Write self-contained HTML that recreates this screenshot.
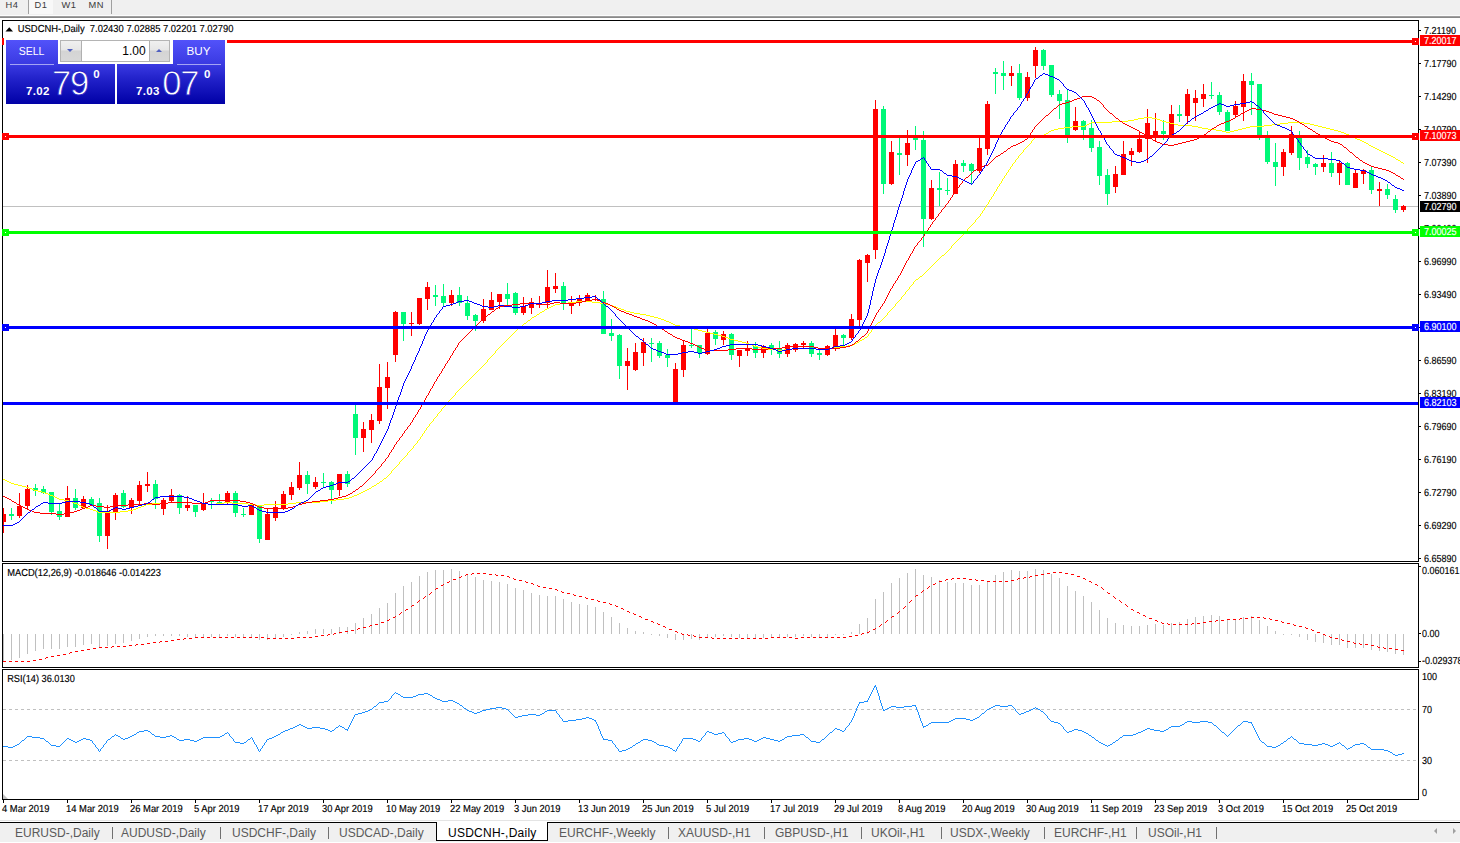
<!DOCTYPE html>
<html><head><meta charset="utf-8"><title>USDCNH Daily</title>
<style>
html,body{margin:0;padding:0;background:#fff;}
body{width:1460px;height:843px;overflow:hidden;position:relative;font-family:"Liberation Sans",sans-serif;}
#tb{position:absolute;left:0;top:0;width:1460px;height:15px;background:#f0f0f0;}
#tb span{position:absolute;top:-1.3px;font-size:9.3px;color:#3a3a3a;line-height:12px;letter-spacing:0.6px;}
#tb i{position:absolute;top:0;width:1px;height:14px;background:#a0a0a0;}
#tb .d1{position:absolute;left:29px;top:0;width:24px;height:14px;background:#f8f8f8;}
#tbl{position:absolute;left:0;top:15px;width:1460px;height:5px;background:linear-gradient(#fcfcfc 0,#fcfcfc 24%,#808080 32%,#8a8a8a 52%,#fff 60%,#fff 100%);}
svg{position:absolute;left:0;top:0;}
svg text{font-family:"Liberation Sans",sans-serif;text-rendering:geometricPrecision;stroke:currentColor;stroke-width:0.15px;}
#tabs{position:absolute;left:0;top:820px;width:1460px;height:22px;background:#f0f0f0;}
#tabs .l1{position:absolute;left:0;top:0;width:1460px;height:1px;background:#e4e4e4;}
#tabs .l0{position:absolute;left:0;top:1px;width:1460px;height:1px;background:#fff;}
#tabs .l2{position:absolute;left:0;top:2px;width:1460px;height:1px;background:#000;}
.tab{position:absolute;top:5px;font-size:12px;line-height:16px;color:#5a5a5a;white-space:nowrap;}
.tab.act{color:#000;letter-spacing:0.25px;}
.sep{position:absolute;top:7px;width:1px;height:12px;background:#707070;}
#acttab{position:absolute;left:436px;top:2px;width:112px;height:19px;background:#fff;border:1px solid #000;border-top:none;box-sizing:border-box;}
/* trade panel */
#tp{position:absolute;left:6px;top:40px;width:219px;height:64px;background:linear-gradient(#fff 0,#fff 24px,transparent 24px);}
#tp .g{position:absolute;left:0;top:0;width:219px;height:64px;background:linear-gradient(#5252fa 0,#3a3ae2 24px,#2020c8 40px,#0000a6 64px);
  clip-path:polygon(0 0,52px 0,52px 24px,109px 24px,109px 64px,111px 64px,111px 24px,167px 24px,167px 0,219px 0,219px 64px,0 64px);}
#tp .btn{position:absolute;color:#fff;font-size:11.7px;text-align:center;line-height:14px;transform:scaleX(0.9);}
#tp .big{position:absolute;color:#fff;font-size:34.6px;line-height:34px;letter-spacing:-1.2px;-webkit-text-stroke:0.8px #1e1ec6;}
#tp .sm{position:absolute;color:#fff;font-size:11.5px;font-weight:bold;line-height:12px;letter-spacing:0.35px;}
#tp .sup{position:absolute;color:#fff;font-size:11.5px;font-weight:bold;line-height:12px;}
</style></head><body>
<div id="tb"><div class="d1"></div><span style="left:5.5px">H4</span><span style="left:34.5px">D1</span><span style="left:61.5px">W1</span><span style="left:88.5px">MN</span><i style="left:28px"></i><i style="left:111px"></i></div>
<div id="tbl"></div>
<svg width="1460" height="843" viewBox="0 0 1460 843">
<line x1="3" y1="206.5" x2="1418" y2="206.5" stroke="#c0c0c0" stroke-width="1"/>
<defs><clipPath id="cp"><rect x="3" y="21" width="1415" height="778"/></clipPath></defs>
<g shape-rendering="crispEdges" clip-path="url(#cp)"><rect x="3" y="508" width="1" height="25" fill="#ff0000"/><rect x="1" y="514" width="5" height="8" fill="#ff0000"/><rect x="11" y="508" width="1" height="12" fill="#00f878"/><rect x="9" y="514" width="5" height="2" fill="#00f878"/><rect x="19" y="493" width="1" height="25" fill="#ff0000"/><rect x="17" y="506" width="5" height="10" fill="#ff0000"/><rect x="27" y="485" width="1" height="24" fill="#ff0000"/><rect x="25" y="489" width="5" height="17" fill="#ff0000"/><rect x="35" y="484" width="1" height="12" fill="#00f878"/><rect x="33" y="488" width="5" height="3" fill="#00f878"/><rect x="43" y="486" width="1" height="8" fill="#00f878"/><rect x="41" y="489" width="5" height="4" fill="#00f878"/><rect x="51" y="492" width="1" height="23" fill="#00f878"/><rect x="49" y="492" width="5" height="20" fill="#00f878"/><rect x="59" y="504" width="1" height="16" fill="#00f878"/><rect x="57" y="511" width="5" height="6" fill="#00f878"/><rect x="67" y="486" width="1" height="31" fill="#ff0000"/><rect x="65" y="498" width="5" height="19" fill="#ff0000"/><rect x="75" y="489" width="1" height="21" fill="#00f878"/><rect x="73" y="498" width="5" height="10" fill="#00f878"/><rect x="83" y="496" width="1" height="13" fill="#ff0000"/><rect x="81" y="499" width="5" height="9" fill="#ff0000"/><rect x="91" y="497" width="1" height="9" fill="#00f878"/><rect x="89" y="499" width="5" height="6" fill="#00f878"/><rect x="99" y="498" width="1" height="44" fill="#00f878"/><rect x="97" y="503" width="5" height="33" fill="#00f878"/><rect x="107" y="505" width="1" height="44" fill="#ff0000"/><rect x="105" y="511" width="5" height="25" fill="#ff0000"/><rect x="115" y="493" width="1" height="27" fill="#ff0000"/><rect x="113" y="495" width="5" height="17" fill="#ff0000"/><rect x="123" y="490" width="1" height="18" fill="#00f878"/><rect x="121" y="493" width="5" height="14" fill="#00f878"/><rect x="131" y="498" width="1" height="16" fill="#ff0000"/><rect x="129" y="500" width="5" height="8" fill="#ff0000"/><rect x="139" y="481" width="1" height="23" fill="#ff0000"/><rect x="137" y="485" width="5" height="16" fill="#ff0000"/><rect x="147" y="472" width="1" height="20" fill="#ff0000"/><rect x="145" y="484" width="5" height="2" fill="#ff0000"/><rect x="155" y="480" width="1" height="29" fill="#00f878"/><rect x="153" y="484" width="5" height="15" fill="#00f878"/><rect x="163" y="498" width="1" height="17" fill="#ff0000"/><rect x="161" y="500" width="5" height="9" fill="#ff0000"/><rect x="171" y="489" width="1" height="14" fill="#ff0000"/><rect x="169" y="495" width="5" height="6" fill="#ff0000"/><rect x="179" y="494" width="1" height="20" fill="#00f878"/><rect x="177" y="495" width="5" height="13" fill="#00f878"/><rect x="187" y="496" width="1" height="15" fill="#ff0000"/><rect x="185" y="505" width="5" height="3" fill="#ff0000"/><rect x="195" y="505" width="1" height="12" fill="#00f878"/><rect x="193" y="505" width="5" height="7" fill="#00f878"/><rect x="203" y="493" width="1" height="18" fill="#ff0000"/><rect x="201" y="503" width="5" height="7" fill="#ff0000"/><rect x="211" y="498" width="1" height="11" fill="#00f878"/><rect x="209" y="501" width="5" height="1" fill="#00f878"/><rect x="219" y="494" width="1" height="11" fill="#00f878"/><rect x="217" y="502" width="5" height="1" fill="#00f878"/><rect x="227" y="491" width="1" height="14" fill="#ff0000"/><rect x="225" y="493" width="5" height="9" fill="#ff0000"/><rect x="235" y="491" width="1" height="26" fill="#00f878"/><rect x="233" y="493" width="5" height="20" fill="#00f878"/><rect x="243" y="508" width="1" height="9" fill="#00f878"/><rect x="241" y="514" width="5" height="1" fill="#00f878"/><rect x="251" y="505" width="1" height="10" fill="#ff0000"/><rect x="249" y="505" width="5" height="10" fill="#ff0000"/><rect x="259" y="506" width="1" height="37" fill="#00f878"/><rect x="257" y="506" width="5" height="33" fill="#00f878"/><rect x="267" y="509" width="1" height="31" fill="#ff0000"/><rect x="265" y="514" width="5" height="26" fill="#ff0000"/><rect x="275" y="501" width="1" height="20" fill="#ff0000"/><rect x="273" y="507" width="5" height="11" fill="#ff0000"/><rect x="283" y="491" width="1" height="19" fill="#ff0000"/><rect x="281" y="494" width="5" height="15" fill="#ff0000"/><rect x="291" y="482" width="1" height="18" fill="#ff0000"/><rect x="289" y="487" width="5" height="8" fill="#ff0000"/><rect x="299" y="462" width="1" height="28" fill="#ff0000"/><rect x="297" y="475" width="5" height="13" fill="#ff0000"/><rect x="307" y="471" width="1" height="23" fill="#00f878"/><rect x="305" y="475" width="5" height="9" fill="#00f878"/><rect x="315" y="477" width="1" height="12" fill="#ff0000"/><rect x="313" y="482" width="5" height="5" fill="#ff0000"/><rect x="323" y="473" width="1" height="15" fill="#00f878"/><rect x="321" y="482" width="5" height="1" fill="#00f878"/><rect x="331" y="481" width="1" height="23" fill="#00f878"/><rect x="329" y="482" width="5" height="8" fill="#00f878"/><rect x="339" y="474" width="1" height="22" fill="#ff0000"/><rect x="337" y="474" width="5" height="16" fill="#ff0000"/><rect x="347" y="471" width="1" height="16" fill="#00f878"/><rect x="345" y="474" width="5" height="10" fill="#00f878"/><rect x="355" y="405" width="1" height="50" fill="#00f878"/><rect x="353" y="414" width="5" height="24" fill="#00f878"/><rect x="363" y="422" width="1" height="30" fill="#ff0000"/><rect x="361" y="429" width="5" height="9" fill="#ff0000"/><rect x="371" y="414" width="1" height="29" fill="#ff0000"/><rect x="369" y="420" width="5" height="10" fill="#ff0000"/><rect x="379" y="364" width="1" height="60" fill="#ff0000"/><rect x="377" y="387" width="5" height="34" fill="#ff0000"/><rect x="387" y="362" width="1" height="47" fill="#ff0000"/><rect x="385" y="377" width="5" height="11" fill="#ff0000"/><rect x="395" y="311" width="1" height="51" fill="#ff0000"/><rect x="393" y="312" width="5" height="43" fill="#ff0000"/><rect x="403" y="312" width="1" height="29" fill="#00f878"/><rect x="401" y="312" width="5" height="12" fill="#00f878"/><rect x="411" y="312" width="1" height="24" fill="#ff0000"/><rect x="409" y="323" width="5" height="1" fill="#ff0000"/><rect x="419" y="298" width="1" height="27" fill="#ff0000"/><rect x="417" y="298" width="5" height="26" fill="#ff0000"/><rect x="427" y="282" width="1" height="28" fill="#ff0000"/><rect x="425" y="287" width="5" height="12" fill="#ff0000"/><rect x="435" y="285" width="1" height="21" fill="#00f878"/><rect x="433" y="295" width="5" height="2" fill="#00f878"/><rect x="443" y="284" width="1" height="22" fill="#00f878"/><rect x="441" y="296" width="5" height="7" fill="#00f878"/><rect x="451" y="290" width="1" height="16" fill="#ff0000"/><rect x="449" y="295" width="5" height="8" fill="#ff0000"/><rect x="459" y="287" width="1" height="19" fill="#00f878"/><rect x="457" y="295" width="5" height="8" fill="#00f878"/><rect x="467" y="296" width="1" height="24" fill="#00f878"/><rect x="465" y="303" width="5" height="13" fill="#00f878"/><rect x="475" y="314" width="1" height="17" fill="#00f878"/><rect x="473" y="315" width="5" height="6" fill="#00f878"/><rect x="483" y="299" width="1" height="24" fill="#ff0000"/><rect x="481" y="309" width="5" height="12" fill="#ff0000"/><rect x="491" y="292" width="1" height="18" fill="#ff0000"/><rect x="489" y="300" width="5" height="10" fill="#ff0000"/><rect x="499" y="294" width="1" height="15" fill="#ff0000"/><rect x="497" y="294" width="5" height="8" fill="#ff0000"/><rect x="507" y="283" width="1" height="24" fill="#00f878"/><rect x="505" y="294" width="5" height="5" fill="#00f878"/><rect x="515" y="292" width="1" height="23" fill="#00f878"/><rect x="513" y="293" width="5" height="20" fill="#00f878"/><rect x="523" y="297" width="1" height="18" fill="#ff0000"/><rect x="521" y="306" width="5" height="7" fill="#ff0000"/><rect x="531" y="298" width="1" height="16" fill="#ff0000"/><rect x="529" y="302" width="5" height="6" fill="#ff0000"/><rect x="539" y="296" width="1" height="12" fill="#ff0000"/><rect x="537" y="304" width="5" height="1" fill="#ff0000"/><rect x="547" y="270" width="1" height="38" fill="#ff0000"/><rect x="545" y="287" width="5" height="16" fill="#ff0000"/><rect x="555" y="273" width="1" height="20" fill="#ff0000"/><rect x="553" y="286" width="5" height="3" fill="#ff0000"/><rect x="563" y="282" width="1" height="28" fill="#00f878"/><rect x="561" y="286" width="5" height="18" fill="#00f878"/><rect x="571" y="296" width="1" height="18" fill="#ff0000"/><rect x="569" y="303" width="5" height="3" fill="#ff0000"/><rect x="579" y="295" width="1" height="11" fill="#ff0000"/><rect x="577" y="299" width="5" height="3" fill="#ff0000"/><rect x="587" y="293" width="1" height="8" fill="#ff0000"/><rect x="585" y="295" width="5" height="6" fill="#ff0000"/><rect x="595" y="295" width="1" height="6" fill="#ff0000"/><rect x="593" y="299" width="5" height="1" fill="#ff0000"/><rect x="603" y="291" width="1" height="43" fill="#00f878"/><rect x="601" y="299" width="5" height="35" fill="#00f878"/><rect x="611" y="319" width="1" height="22" fill="#00f878"/><rect x="609" y="333" width="5" height="3" fill="#00f878"/><rect x="619" y="334" width="1" height="45" fill="#00f878"/><rect x="617" y="335" width="5" height="31" fill="#00f878"/><rect x="627" y="348" width="1" height="42" fill="#ff0000"/><rect x="625" y="361" width="5" height="5" fill="#ff0000"/><rect x="635" y="343" width="1" height="28" fill="#ff0000"/><rect x="633" y="352" width="5" height="18" fill="#ff0000"/><rect x="643" y="338" width="1" height="28" fill="#ff0000"/><rect x="641" y="342" width="5" height="11" fill="#ff0000"/><rect x="651" y="338" width="1" height="24" fill="#00f878"/><rect x="649" y="343" width="5" height="1" fill="#00f878"/><rect x="659" y="341" width="1" height="17" fill="#00f878"/><rect x="657" y="343" width="5" height="13" fill="#00f878"/><rect x="667" y="349" width="1" height="18" fill="#00f878"/><rect x="665" y="355" width="5" height="3" fill="#00f878"/><rect x="675" y="363" width="1" height="39" fill="#ff0000"/><rect x="673" y="369" width="5" height="33" fill="#ff0000"/><rect x="683" y="340" width="1" height="37" fill="#ff0000"/><rect x="681" y="345" width="5" height="25" fill="#ff0000"/><rect x="691" y="329" width="1" height="19" fill="#00f878"/><rect x="689" y="345" width="5" height="1" fill="#00f878"/><rect x="699" y="345" width="1" height="13" fill="#00f878"/><rect x="697" y="345" width="5" height="8" fill="#00f878"/><rect x="707" y="329" width="1" height="26" fill="#ff0000"/><rect x="705" y="333" width="5" height="21" fill="#ff0000"/><rect x="715" y="330" width="1" height="15" fill="#00f878"/><rect x="713" y="332" width="5" height="7" fill="#00f878"/><rect x="723" y="331" width="1" height="14" fill="#ff0000"/><rect x="721" y="334" width="5" height="6" fill="#ff0000"/><rect x="731" y="333" width="1" height="27" fill="#00f878"/><rect x="729" y="334" width="5" height="21" fill="#00f878"/><rect x="739" y="350" width="1" height="17" fill="#ff0000"/><rect x="737" y="350" width="5" height="6" fill="#ff0000"/><rect x="747" y="341" width="1" height="15" fill="#ff0000"/><rect x="745" y="348" width="5" height="3" fill="#ff0000"/><rect x="755" y="342" width="1" height="16" fill="#00f878"/><rect x="753" y="346" width="5" height="7" fill="#00f878"/><rect x="763" y="345" width="1" height="13" fill="#ff0000"/><rect x="761" y="346" width="5" height="7" fill="#ff0000"/><rect x="771" y="343" width="1" height="12" fill="#00f878"/><rect x="769" y="345" width="5" height="5" fill="#00f878"/><rect x="779" y="341" width="1" height="17" fill="#00f878"/><rect x="777" y="349" width="5" height="5" fill="#00f878"/><rect x="787" y="343" width="1" height="14" fill="#ff0000"/><rect x="785" y="345" width="5" height="9" fill="#ff0000"/><rect x="795" y="343" width="1" height="9" fill="#ff0000"/><rect x="793" y="344" width="5" height="6" fill="#ff0000"/><rect x="803" y="341" width="1" height="7" fill="#ff0000"/><rect x="801" y="343" width="5" height="2" fill="#ff0000"/><rect x="811" y="341" width="1" height="16" fill="#00f878"/><rect x="809" y="343" width="5" height="11" fill="#00f878"/><rect x="819" y="350" width="1" height="10" fill="#00f878"/><rect x="817" y="353" width="5" height="2" fill="#00f878"/><rect x="827" y="345" width="1" height="11" fill="#ff0000"/><rect x="825" y="346" width="5" height="9" fill="#ff0000"/><rect x="835" y="329" width="1" height="22" fill="#ff0000"/><rect x="833" y="335" width="5" height="12" fill="#ff0000"/><rect x="843" y="334" width="1" height="11" fill="#00f878"/><rect x="841" y="335" width="5" height="3" fill="#00f878"/><rect x="851" y="314" width="1" height="26" fill="#ff0000"/><rect x="849" y="319" width="5" height="19" fill="#ff0000"/><rect x="859" y="259" width="1" height="67" fill="#ff0000"/><rect x="857" y="260" width="5" height="60" fill="#ff0000"/><rect x="867" y="254" width="1" height="28" fill="#ff0000"/><rect x="865" y="255" width="5" height="8" fill="#ff0000"/><rect x="875" y="100" width="1" height="159" fill="#ff0000"/><rect x="873" y="109" width="5" height="141" fill="#ff0000"/><rect x="883" y="106" width="1" height="88" fill="#00f878"/><rect x="881" y="109" width="5" height="75" fill="#00f878"/><rect x="891" y="141" width="1" height="44" fill="#ff0000"/><rect x="889" y="152" width="5" height="32" fill="#ff0000"/><rect x="899" y="138" width="1" height="37" fill="#00f878"/><rect x="897" y="153" width="5" height="2" fill="#00f878"/><rect x="907" y="130" width="1" height="36" fill="#ff0000"/><rect x="905" y="143" width="5" height="12" fill="#ff0000"/><rect x="915" y="126" width="1" height="24" fill="#00f878"/><rect x="913" y="138" width="5" height="2" fill="#00f878"/><rect x="923" y="131" width="1" height="116" fill="#00f878"/><rect x="921" y="140" width="5" height="79" fill="#00f878"/><rect x="931" y="180" width="1" height="40" fill="#ff0000"/><rect x="929" y="188" width="5" height="31" fill="#ff0000"/><rect x="939" y="172" width="1" height="34" fill="#00f878"/><rect x="937" y="188" width="5" height="2" fill="#00f878"/><rect x="947" y="178" width="1" height="17" fill="#00f878"/><rect x="945" y="190" width="5" height="1" fill="#00f878"/><rect x="955" y="160" width="1" height="34" fill="#ff0000"/><rect x="953" y="164" width="5" height="30" fill="#ff0000"/><rect x="963" y="160" width="1" height="12" fill="#00f878"/><rect x="961" y="163" width="5" height="3" fill="#00f878"/><rect x="971" y="163" width="1" height="21" fill="#00f878"/><rect x="969" y="164" width="5" height="7" fill="#00f878"/><rect x="979" y="138" width="1" height="35" fill="#ff0000"/><rect x="977" y="148" width="5" height="23" fill="#ff0000"/><rect x="987" y="101" width="1" height="54" fill="#ff0000"/><rect x="985" y="104" width="5" height="45" fill="#ff0000"/><rect x="995" y="68" width="1" height="26" fill="#00f878"/><rect x="993" y="72" width="5" height="2" fill="#00f878"/><rect x="1003" y="61" width="1" height="29" fill="#00f878"/><rect x="1001" y="73" width="5" height="3" fill="#00f878"/><rect x="1011" y="66" width="1" height="20" fill="#ff0000"/><rect x="1009" y="73" width="5" height="3" fill="#ff0000"/><rect x="1019" y="64" width="1" height="36" fill="#00f878"/><rect x="1017" y="73" width="5" height="25" fill="#00f878"/><rect x="1027" y="72" width="1" height="29" fill="#ff0000"/><rect x="1025" y="77" width="5" height="21" fill="#ff0000"/><rect x="1035" y="47" width="1" height="31" fill="#ff0000"/><rect x="1033" y="50" width="5" height="16" fill="#ff0000"/><rect x="1043" y="49" width="1" height="21" fill="#00f878"/><rect x="1041" y="50" width="5" height="16" fill="#00f878"/><rect x="1051" y="65" width="1" height="32" fill="#00f878"/><rect x="1049" y="65" width="5" height="30" fill="#00f878"/><rect x="1059" y="90" width="1" height="29" fill="#00f878"/><rect x="1057" y="94" width="5" height="7" fill="#00f878"/><rect x="1067" y="89" width="1" height="54" fill="#00f878"/><rect x="1065" y="100" width="5" height="36" fill="#00f878"/><rect x="1075" y="107" width="1" height="24" fill="#ff0000"/><rect x="1073" y="121" width="5" height="9" fill="#ff0000"/><rect x="1083" y="120" width="1" height="20" fill="#00f878"/><rect x="1081" y="121" width="5" height="9" fill="#00f878"/><rect x="1091" y="120" width="1" height="32" fill="#00f878"/><rect x="1089" y="128" width="5" height="20" fill="#00f878"/><rect x="1099" y="141" width="1" height="44" fill="#00f878"/><rect x="1097" y="147" width="5" height="29" fill="#00f878"/><rect x="1107" y="169" width="1" height="36" fill="#00f878"/><rect x="1105" y="175" width="5" height="19" fill="#00f878"/><rect x="1115" y="166" width="1" height="27" fill="#ff0000"/><rect x="1113" y="174" width="5" height="13" fill="#ff0000"/><rect x="1123" y="141" width="1" height="34" fill="#ff0000"/><rect x="1121" y="154" width="5" height="21" fill="#ff0000"/><rect x="1131" y="148" width="1" height="18" fill="#ff0000"/><rect x="1129" y="151" width="5" height="4" fill="#ff0000"/><rect x="1139" y="131" width="1" height="22" fill="#ff0000"/><rect x="1137" y="139" width="5" height="13" fill="#ff0000"/><rect x="1147" y="109" width="1" height="54" fill="#ff0000"/><rect x="1145" y="123" width="5" height="16" fill="#ff0000"/><rect x="1155" y="113" width="1" height="28" fill="#ff0000"/><rect x="1153" y="131" width="5" height="7" fill="#ff0000"/><rect x="1163" y="120" width="1" height="20" fill="#00f878"/><rect x="1161" y="131" width="5" height="3" fill="#00f878"/><rect x="1171" y="105" width="1" height="30" fill="#ff0000"/><rect x="1169" y="114" width="5" height="21" fill="#ff0000"/><rect x="1179" y="105" width="1" height="17" fill="#00f878"/><rect x="1177" y="114" width="5" height="2" fill="#00f878"/><rect x="1187" y="89" width="1" height="35" fill="#ff0000"/><rect x="1185" y="94" width="5" height="22" fill="#ff0000"/><rect x="1195" y="90" width="1" height="31" fill="#ff0000"/><rect x="1193" y="98" width="5" height="5" fill="#ff0000"/><rect x="1203" y="84" width="1" height="23" fill="#ff0000"/><rect x="1201" y="94" width="5" height="5" fill="#ff0000"/><rect x="1211" y="82" width="1" height="17" fill="#00f878"/><rect x="1209" y="95" width="5" height="1" fill="#00f878"/><rect x="1219" y="92" width="1" height="23" fill="#00f878"/><rect x="1217" y="95" width="5" height="17" fill="#00f878"/><rect x="1227" y="110" width="1" height="21" fill="#00f878"/><rect x="1225" y="112" width="5" height="19" fill="#00f878"/><rect x="1235" y="101" width="1" height="16" fill="#ff0000"/><rect x="1233" y="106" width="5" height="9" fill="#ff0000"/><rect x="1243" y="74" width="1" height="47" fill="#ff0000"/><rect x="1241" y="81" width="5" height="26" fill="#ff0000"/><rect x="1251" y="73" width="1" height="42" fill="#00f878"/><rect x="1249" y="81" width="5" height="4" fill="#00f878"/><rect x="1259" y="84" width="1" height="56" fill="#00f878"/><rect x="1257" y="84" width="5" height="51" fill="#00f878"/><rect x="1267" y="131" width="1" height="33" fill="#00f878"/><rect x="1265" y="138" width="5" height="24" fill="#00f878"/><rect x="1275" y="143" width="1" height="43" fill="#00f878"/><rect x="1273" y="162" width="5" height="5" fill="#00f878"/><rect x="1283" y="149" width="1" height="27" fill="#ff0000"/><rect x="1281" y="152" width="5" height="15" fill="#ff0000"/><rect x="1291" y="126" width="1" height="29" fill="#ff0000"/><rect x="1289" y="134" width="5" height="19" fill="#ff0000"/><rect x="1299" y="131" width="1" height="39" fill="#00f878"/><rect x="1297" y="137" width="5" height="21" fill="#00f878"/><rect x="1307" y="150" width="1" height="18" fill="#00f878"/><rect x="1305" y="157" width="5" height="7" fill="#00f878"/><rect x="1315" y="163" width="1" height="12" fill="#00f878"/><rect x="1313" y="164" width="5" height="3" fill="#00f878"/><rect x="1323" y="155" width="1" height="17" fill="#ff0000"/><rect x="1321" y="163" width="5" height="4" fill="#ff0000"/><rect x="1331" y="152" width="1" height="25" fill="#00f878"/><rect x="1329" y="163" width="5" height="10" fill="#00f878"/><rect x="1339" y="161" width="1" height="24" fill="#ff0000"/><rect x="1337" y="163" width="5" height="10" fill="#ff0000"/><rect x="1347" y="162" width="1" height="23" fill="#00f878"/><rect x="1345" y="163" width="5" height="22" fill="#00f878"/><rect x="1355" y="170" width="1" height="18" fill="#ff0000"/><rect x="1353" y="173" width="5" height="15" fill="#ff0000"/><rect x="1363" y="169" width="1" height="15" fill="#ff0000"/><rect x="1361" y="170" width="5" height="4" fill="#ff0000"/><rect x="1371" y="166" width="1" height="28" fill="#00f878"/><rect x="1369" y="170" width="5" height="20" fill="#00f878"/><rect x="1379" y="182" width="1" height="24" fill="#ff0000"/><rect x="1377" y="189" width="5" height="2" fill="#ff0000"/><rect x="1387" y="184" width="1" height="15" fill="#00f878"/><rect x="1385" y="189" width="5" height="6" fill="#00f878"/><rect x="1395" y="195" width="1" height="18" fill="#00f878"/><rect x="1393" y="199" width="5" height="11" fill="#00f878"/><rect x="1403" y="205" width="1" height="7" fill="#ff0000"/><rect x="1401" y="206" width="5" height="4" fill="#ff0000"/></g>
<path d="M1085 125h2v1h-2zM1178 125h14v1h-14zM1264 125h8v1h-8zM1314 125h4v1h-4zM1014 162h1v1h-1zM1401 162h2v1h-2zM437 414h1v2h-1zM532 317h2v1h-2zM654 317h4v1h-4zM884 317h1v1h-1zM1051 130h3v1h-3zM1216 130h6v1h-6zM1234 130h4v1h-4zM1334 130h4v1h-4zM72 502h2v1h-2zM168 502h24v1h-24zM224 502h8v1h-8zM296 502h24v1h-24zM496 350h1v1h-1zM776 350h8v1h-8zM57 498h2v1h-2zM344 498h5v1h-5zM77 504h2v1h-2zM146 504h6v1h-6zM208 504h8v1h-8zM248 504h8v1h-8zM264 504h24v1h-24zM432 421h1v1h-1zM498 348h1v1h-1zM762 348h6v1h-6zM792 348h24v1h-24zM824 348h8v1h-8zM1128 120h6v1h-6zM1160 120h2v1h-2zM1072 126h13v1h-13zM1192 126h6v1h-6zM1250 126h14v1h-14zM1318 126h4v1h-4zM74 503h3v1h-3zM152 503h16v1h-16zM192 503h16v1h-16zM216 503h8v1h-8zM232 503h16v1h-16zM288 503h8v1h-8zM534 316h2v1h-2zM650 316h4v1h-4zM885 316h1v1h-1zM1025 148h1v1h-1zM1375 148h2v1h-2zM973 223h1v1h-1zM448 401h1v1h-1zM497 349h1v1h-1zM768 349h8v1h-8zM784 349h8v1h-8zM816 349h8v1h-8zM1112 121h16v1h-16zM1162 121h4v1h-4zM1005 175h1v1h-1zM1020 154h1v1h-1zM1387 154h2v1h-2zM539 313h1v1h-1zM634 313h6v1h-6zM887 313h1v2h-1zM516 330h1v1h-1zM698 330h4v1h-4zM871 330h1v2h-1zM1064 127h8v1h-8zM1198 127h4v1h-4zM1246 127h4v1h-4zM1322 127h4v1h-4zM500 346h1v1h-1zM754 346h4v1h-4zM840 346h8v1h-8zM59 499h5v1h-5zM336 499h8v1h-8zM907 290h1v1h-1zM420 437h1v2h-1zM1087 124h2v1h-2zM1174 124h4v1h-4zM1272 124h8v1h-8zM1310 124h4v1h-4zM922 275h1v1h-1zM553 305h2v1h-2zM610 305h3v1h-3zM895 304h1v2h-1zM1019 155h1v1h-1zM1389 155h2v1h-2zM1023 150h1v2h-1zM1381 151h2v1h-2zM506 340h1v1h-1zM734 340h4v1h-4zM860 340h2v1h-2zM509 337h1v1h-1zM725 337h3v1h-3zM865 337h2v1h-2zM98 512h22v1h-22zM1008 170h1v2h-1zM396 466h1v1h-1zM29 488h3v1h-3zM369 488h2v1h-2zM568 302h8v1h-8zM592 302h8v1h-8zM897 302h1v1h-1zM503 343h1v1h-1zM746 343h3v1h-3zM855 343h2v1h-2zM93 510h3v1h-3zM128 510h5v1h-5zM524 323h2v1h-2zM671 323h2v1h-2zM877 323h1v1h-1zM513 333h1v1h-1zM710 333h4v1h-4zM869 333h1v1h-1zM1058 128h6v1h-6zM1202 128h6v1h-6zM1242 128h4v1h-4zM1326 128h4v1h-4zM1004 176h1v2h-1zM482 366h1v1h-1zM1038 136h4v1h-4zM1351 136h2v1h-2zM1144 117h8v1h-8zM499 347h1v1h-1zM758 347h4v1h-4zM832 347h8v1h-8zM929 268h1v1h-1zM388 475h1v1h-1zM520 327h1v1h-1zM686 327h4v1h-4zM874 326h1v2h-1zM547 308h2v1h-2zM618 308h3v1h-3zM892 308h1v1h-1zM926 271h1v1h-1zM545 309h2v1h-2zM621 309h3v1h-3zM891 309h1v1h-1zM419 439h1v1h-1zM1089 123h2v1h-2zM1170 123h4v1h-4zM1280 123h8v1h-8zM1304 123h6v1h-6zM32 489h2v1h-2zM367 489h2v1h-2zM34 490h4v1h-4zM365 490h2v1h-2zM1028 145h1v1h-1zM1369 145h2v1h-2zM504 342h1v1h-1zM742 342h4v1h-4zM857 342h2v1h-2zM1031 141h1v2h-1zM1362 141h2v1h-2zM512 334h1v1h-1zM714 334h4v1h-4zM868 334h1v2h-1zM502 344h1v1h-1zM749 344h3v1h-3zM853 344h2v1h-2zM536 315h1v1h-1zM646 315h4v1h-4zM886 315h1v1h-1zM486 362h1v1h-1zM1054 129h4v1h-4zM1208 129h8v1h-8zM1238 129h4v1h-4zM1330 129h4v1h-4zM933 264h1v1h-1zM3 479h2v1h-2zM383 479h1v1h-1zM64 500h5v1h-5zM328 500h8v1h-8zM576 301h16v1h-16zM898 301h1v1h-1zM522 325h1v1h-1zM675 325h5v1h-5zM875 325h1v1h-1zM492 355h1v1h-1zM521 326h1v1h-1zM680 326h6v1h-6zM53 496h2v1h-2zM352 496h2v1h-2zM18 485h4v1h-4zM374 485h2v1h-2zM1091 122h21v1h-21zM1166 122h4v1h-4zM1288 122h16v1h-16zM955 242h1v1h-1zM26 487h3v1h-3zM371 487h1v1h-1zM86 508h4v1h-4zM136 508h2v1h-2zM79 505h2v1h-2zM144 505h2v1h-2zM256 505h8v1h-8zM952 245h1v1h-1zM542 311h2v1h-2zM626 311h4v1h-4zM889 311h1v1h-1zM947 251h1v1h-1zM967 229h1v2h-1zM1049 131h2v1h-2zM1222 131h4v1h-4zM1230 131h4v1h-4zM1338 131h3v1h-3zM507 339h1v1h-1zM730 339h4v1h-4zM862 339h2v1h-2zM511 335h1v1h-1zM718 335h4v1h-4zM1010 167h1v2h-1zM1379 150h2v1h-2zM901 297h1v2h-1zM1027 146h1v1h-1zM1371 146h2v1h-2zM959 238h1v1h-1zM979 216h1v1h-1zM90 509h3v1h-3zM133 509h3v1h-3zM560 303h8v1h-8zM600 303h6v1h-6zM896 303h1v1h-1zM974 222h1v1h-1zM537 314h2v1h-2zM640 314h6v1h-6zM460 388h1v1h-1zM425 430h1v1h-1zM1018 156h1v2h-1zM1393 157h2v1h-2zM441 409h1v2h-1zM540 312h2v1h-2zM630 312h4v1h-4zM888 312h1v1h-1zM966 231h1v1h-1zM1013 163h1v1h-1zM1403 163h1v1h-1zM982 211h1v2h-1zM436 416h1v1h-1zM531 318h1v1h-1zM658 318h3v1h-3zM883 318h1v1h-1zM523 324h1v1h-1zM673 324h2v1h-2zM876 324h1v1h-1zM919 277h1v1h-1zM527 321h1v1h-1zM666 321h3v1h-3zM880 321h1v1h-1zM447 402h1v2h-1zM467 381h1v1h-1zM1030 143h1v1h-1zM1366 143h2v1h-2zM1033 139h1v1h-1zM1357 139h3v1h-3zM413 446h1v2h-1zM1032 140h1v1h-1zM1360 140h2v1h-2zM1046 133h2v1h-2zM1344 133h2v1h-2zM464 384h1v1h-1zM408 452h1v1h-1zM518 328h2v1h-2zM690 328h4v1h-4zM873 328h1v1h-1zM424 431h1v2h-1zM400 461h1v1h-1zM471 377h1v1h-1zM395 467h1v1h-1zM551 306h2v1h-2zM613 306h3v1h-3zM894 306h1v1h-1zM515 331h1v1h-1zM702 331h4v1h-4zM407 453h1v2h-1zM478 370h1v1h-1zM55 497h2v1h-2zM349 497h3v1h-3zM48 494h2v1h-2zM357 494h2v1h-2zM508 338h1v1h-1zM728 338h2v1h-2zM864 338h1v1h-1zM81 506h2v1h-2zM141 506h3v1h-3zM96 511h2v1h-2zM120 511h8v1h-8zM514 332h1v1h-1zM706 332h4v1h-4zM870 332h1v1h-1zM988 202h1v2h-1zM1015 160h1v2h-1zM1400 161h1v1h-1zM517 329h1v1h-1zM694 329h4v1h-4zM872 329h1v1h-1zM984 208h1v2h-1zM549 307h2v1h-2zM616 307h2v1h-2zM893 307h1v1h-1zM1042 135h2v1h-2zM1349 135h2v1h-2zM913 282h1v2h-1zM1391 156h2v1h-2zM908 289h1v1h-1zM1138 118h6v1h-6zM1152 118h5v1h-5zM5 480h2v1h-2zM382 480h1v1h-1zM453 396h1v1h-1zM920 276h2v1h-2zM978 217h1v1h-1zM555 304h5v1h-5zM606 304h4v1h-4zM429 424h1v2h-1zM911 285h1v1h-1zM389 474h1v1h-1zM1002 179h1v2h-1zM42 492h3v1h-3zM361 492h2v1h-2zM927 270h1v1h-1zM440 411h1v1h-1zM69 501h3v1h-3zM320 501h8v1h-8zM998 186h1v1h-1zM918 278h1v1h-1zM417 441h1v2h-1zM899 300h1v1h-1zM22 486h4v1h-4zM372 486h2v1h-2zM934 263h1v1h-1zM423 433h1v1h-1zM1001 181h1v2h-1zM997 187h1v2h-1zM941 256h1v1h-1zM83 507h3v1h-3zM138 507h3v1h-3zM1048 132h1v1h-1zM1226 132h4v1h-4zM1341 132h3v1h-3zM993 194h1v2h-1zM938 259h1v1h-1zM1034 138h1v1h-1zM1355 138h2v1h-2zM1044 134h2v1h-2zM1346 134h3v1h-3zM544 310h1v1h-1zM624 310h2v1h-2zM890 310h1v1h-1zM50 495h3v1h-3zM354 495h3v1h-3zM960 237h1v1h-1zM1024 149h1v1h-1zM1377 149h2v1h-2zM972 224h1v1h-1zM983 210h1v1h-1zM964 233h1v1h-1zM434 418h1v1h-1zM9 482h2v1h-2zM379 482h1v1h-1zM528 320h2v1h-2zM664 320h2v1h-2zM881 320h1v1h-1zM510 336h1v1h-1zM722 336h3v1h-3zM867 336h1v1h-1zM1007 172h1v1h-1zM912 284h1v1h-1zM501 345h1v1h-1zM752 345h2v1h-2zM848 345h5v1h-5zM1003 178h1v1h-1zM422 434h1v2h-1zM401 460h1v1h-1zM457 391h1v1h-1zM7 481h2v1h-2zM380 481h2v1h-2zM472 376h1v1h-1zM452 397h1v1h-1zM433 419h1v2h-1zM393 469h1v1h-1zM428 426h1v1h-1zM1006 173h1v2h-1zM479 369h1v1h-1zM405 456h1v1h-1zM476 372h1v1h-1zM923 274h1v1h-1zM526 322h1v1h-1zM669 322h2v1h-2zM878 322h2v1h-2zM491 356h1v1h-1zM530 319h1v1h-1zM661 319h3v1h-3zM882 319h1v1h-1zM483 365h1v1h-1zM930 267h1v1h-1zM946 252h1v1h-1zM505 341h1v1h-1zM738 341h4v1h-4zM859 341h1v1h-1zM992 196h1v1h-1zM937 260h1v1h-1zM906 291h1v1h-1zM944 254h1v1h-1zM1398 160h2v1h-2zM1364 142h2v1h-2zM1012 164h1v2h-1zM451 398h1v1h-1zM956 241h1v1h-1zM976 219h1v1h-1zM446 404h1v1h-1zM971 225h1v1h-1zM38 491h4v1h-4zM363 491h2v1h-2zM45 493h3v1h-3zM359 493h2v1h-2zM438 413h1v1h-1zM905 292h1v2h-1zM963 234h1v1h-1zM418 440h1v1h-1zM11 483h3v1h-3zM377 483h2v1h-2zM900 299h1v1h-1zM916 279h2v1h-2zM1035 137h3v1h-3zM1353 137h2v1h-2zM394 468h1v1h-1zM975 220h1v2h-1zM386 477h1v1h-1zM406 455h1v1h-1zM924 273h1v1h-1zM939 258h1v1h-1zM468 380h1v1h-1zM412 448h1v1h-1zM14 484h4v1h-4zM376 484h1v1h-1zM409 451h1v1h-1zM404 457h1v1h-1zM1134 119h4v1h-4zM1157 119h3v1h-3zM475 373h1v1h-1zM495 351h1v2h-1zM1016 159h1v1h-1zM1396 159h2v1h-2zM490 357h1v1h-1zM487 360h1v2h-1zM953 244h1v1h-1zM965 232h1v1h-1zM945 253h1v1h-1zM494 353h1v1h-1zM957 240h1v1h-1zM987 204h1v1h-1zM910 286h1v1h-1zM458 390h1v1h-1zM1011 166h1v1h-1zM980 214h1v2h-1zM450 399h1v1h-1zM445 405h1v1h-1zM465 383h1v1h-1zM426 428h1v2h-1zM442 408h1v1h-1zM909 287h1v2h-1zM904 294h1v1h-1zM489 358h1v1h-1zM469 379h1v1h-1zM484 364h1v1h-1zM931 266h1v1h-1zM384 478h2v1h-2zM416 443h1v1h-1zM935 262h1v1h-1zM986 205h1v2h-1zM951 246h1v2h-1zM942 255h2v1h-2zM977 218h1v1h-1zM989 200h1v2h-1zM969 227h1v1h-1zM439 412h1v1h-1zM985 207h1v1h-1zM961 236h1v1h-1zM914 281h1v1h-1zM392 470h1v1h-1zM427 427h1v1h-1zM387 476h1v1h-1zM925 272h1v1h-1zM1017 158h1v1h-1zM1395 158h1v1h-1zM399 462h1v2h-1zM449 400h1v1h-1zM1026 147h1v1h-1zM1373 147h2v1h-2zM430 423h1v1h-1zM932 265h1v1h-1zM391 471h1v2h-1zM461 387h1v1h-1zM421 436h1v1h-1zM397 465h1v1h-1zM488 359h1v1h-1zM991 197h1v2h-1zM480 368h1v1h-1zM994 192h1v2h-1zM958 239h1v1h-1zM1022 152h1v1h-1zM1383 152h2v1h-2zM950 248h1v1h-1zM970 226h1v1h-1zM981 213h1v1h-1zM1021 153h1v1h-1zM1385 153h2v1h-2zM962 235h1v1h-1zM443 407h1v1h-1zM463 385h1v1h-1zM968 228h1v1h-1zM455 393h1v2h-1zM902 296h1v1h-1zM470 378h1v1h-1zM431 422h1v1h-1zM411 449h1v1h-1zM477 371h1v1h-1zM1000 183h1v1h-1zM403 458h1v1h-1zM474 374h1v1h-1zM398 464h1v1h-1zM996 189h1v2h-1zM414 445h1v1h-1zM936 261h1v1h-1zM390 473h1v1h-1zM481 367h1v1h-1zM928 269h1v1h-1zM999 184h1v2h-1zM940 257h1v1h-1zM990 199h1v1h-1zM1029 144h1v1h-1zM1368 144h1v1h-1zM915 280h1v1h-1zM954 243h1v1h-1zM444 406h1v1h-1zM949 249h1v1h-1zM903 295h1v1h-1zM1009 169h1v1h-1zM462 386h1v1h-1zM459 389h1v1h-1zM454 395h1v1h-1zM435 417h1v1h-1zM415 444h1v1h-1zM466 382h1v1h-1zM410 450h1v1h-1zM402 459h1v1h-1zM493 354h1v1h-1zM473 375h1v1h-1zM995 191h1v1h-1zM485 363h1v1h-1zM948 250h1v1h-1zM456 392h1v1h-1z" fill="#ffff00" shape-rendering="crispEdges"/>
<path d="M974 170h2v1h-2zM1386 170h3v1h-3zM1003 152h1v1h-1zM1350 152h2v1h-2zM1053 109h1v1h-1zM1106 109h1v1h-1zM1249 109h2v1h-2zM1256 109h6v1h-6zM490 313h1v1h-1zM626 313h3v1h-3zM876 313h1v2h-1zM40 513h16v1h-16zM64 513h6v1h-6zM512 304h8v1h-8zM536 304h14v1h-14zM608 304h2v1h-2zM882 304h1v2h-1zM1020 142h2v1h-2zM1157 142h3v1h-3zM1182 142h4v1h-4zM1334 142h4v1h-4zM1041 120h1v1h-1zM1119 120h1v1h-1zM1229 120h2v1h-2zM1295 120h2v1h-2zM434 382h1v2h-1zM17 504h2v1h-2zM128 504h16v1h-16zM152 504h8v1h-8zM253 504h2v1h-2zM298 504h4v1h-4zM592 299h5v1h-5zM885 299h1v2h-1zM1034 127h1v2h-1zM1131 127h2v1h-2zM1214 127h2v1h-2zM1307 127h1v1h-1zM455 348h1v2h-1zM701 348h3v1h-3zM736 348h16v1h-16zM768 348h14v1h-14zM818 348h22v1h-22zM14 502h2v1h-2zM168 502h24v1h-24zM205 502h3v1h-3zM246 502h4v1h-4zM306 502h6v1h-6zM1040 121h1v1h-1zM1120 121h2v1h-2zM1226 121h3v1h-3zM1297 121h2v1h-2zM21 506h2v1h-2zM88 506h2v1h-2zM96 506h8v1h-8zM110 506h4v1h-4zM257 506h2v1h-2zM293 506h3v1h-3zM1038 123h1v1h-1zM1123 123h2v1h-2zM1221 123h3v1h-3zM1300 123h2v1h-2zM23 507h2v1h-2zM85 507h3v1h-3zM104 507h6v1h-6zM259 507h5v1h-5zM288 507h5v1h-5zM16 503h1v1h-1zM144 503h8v1h-8zM160 503h8v1h-8zM192 503h13v1h-13zM250 503h3v1h-3zM302 503h4v1h-4zM900 273h1v2h-1zM1033 129h1v1h-1zM1135 129h2v1h-2zM1211 129h1v1h-1zM1310 129h2v1h-2zM984 165h4v1h-4zM1369 165h2v1h-2zM1080 97h2v1h-2zM1092 97h2v1h-2zM1013 145h3v1h-3zM1168 145h6v1h-6zM1342 145h1v1h-1zM487 315h1v1h-1zM632 315h2v1h-2zM875 315h1v2h-1zM353 491h2v1h-2zM491 312h1v1h-1zM624 312h2v1h-2zM877 312h1v1h-1zM454 350h1v1h-1zM706 350h22v1h-22zM504 305h8v1h-8zM610 305h2v1h-2zM1045 116h1v1h-1zM1114 116h1v1h-1zM1236 116h2v1h-2zM1282 116h4v1h-4zM405 430h1v1h-1zM12 501h2v1h-2zM208 501h2v1h-2zM240 501h6v1h-6zM312 501h8v1h-8zM456 347h1v1h-1zM699 347h2v1h-2zM782 347h4v1h-4zM814 347h4v1h-4zM840 347h6v1h-6zM458 343h1v2h-1zM690 343h3v1h-3zM854 343h1v1h-1zM1027 138h1v1h-1zM1150 138h2v1h-2zM1197 138h2v1h-2zM1325 138h2v1h-2zM1024 140h1v1h-1zM1153 140h2v1h-2zM1190 140h4v1h-4zM1329 140h2v1h-2zM1028 136h1v2h-1zM1147 136h1v1h-1zM1201 136h2v1h-2zM1321 136h2v1h-2zM1037 124h1v1h-1zM1125 124h2v1h-2zM1219 124h2v1h-2zM1302 124h2v1h-2zM1072 100h2v1h-2zM1097 100h2v1h-2zM459 342h1v1h-1zM688 342h2v1h-2zM855 342h1v1h-1zM465 336h1v1h-1zM673 336h2v1h-2zM862 336h2v1h-2zM1054 108h2v1h-2zM1105 108h1v1h-1zM1251 108h5v1h-5zM1049 113h1v1h-1zM1110 113h2v1h-2zM1241 113h2v1h-2zM1272 113h2v1h-2zM5 497h2v1h-2zM338 497h4v1h-4zM966 177h2v1h-2zM1400 177h1v1h-1zM1046 115h2v1h-2zM1113 115h1v1h-1zM1238 115h2v1h-2zM1278 115h4v1h-4zM396 442h1v2h-1zM486 316h1v1h-1zM634 316h3v1h-3zM499 306h5v1h-5zM612 306h2v1h-2zM881 306h1v1h-1zM1052 110h1v1h-1zM1107 110h1v1h-1zM1247 110h2v1h-2zM1262 110h4v1h-4zM1008 148h2v1h-2zM1346 148h1v1h-1zM11 500h1v1h-1zM210 500h30v1h-30zM320 500h8v1h-8zM1029 135h1v1h-1zM1145 135h2v1h-2zM1203 135h1v1h-1zM1320 135h1v1h-1zM25 508h2v1h-2zM82 508h3v1h-3zM264 508h24v1h-24zM958 187h1v1h-1zM1016 144h2v1h-2zM1162 144h6v1h-6zM1174 144h4v1h-4zM1340 144h2v1h-2zM1022 141h2v1h-2zM1155 141h2v1h-2zM1186 141h4v1h-4zM1331 141h3v1h-3zM1148 137h2v1h-2zM1199 137h2v1h-2zM1323 137h2v1h-2zM1030 133h1v2h-1zM1142 133h2v1h-2zM1206 133h1v1h-1zM1316 133h2v1h-2zM890 289h1v2h-1zM368 479h1v1h-1zM404 431h1v2h-1zM970 174h1v1h-1zM1395 174h1v1h-1zM1059 104h3v1h-3zM1102 104h1v1h-1zM1048 114h1v1h-1zM1112 114h1v1h-1zM1240 114h1v1h-1zM1274 114h4v1h-4zM704 349h2v1h-2zM728 349h8v1h-8zM752 349h16v1h-16zM961 183h1v1h-1zM380 466h1v1h-1zM34 512h6v1h-6zM70 512h4v1h-4zM554 302h6v1h-6zM576 302h6v1h-6zM602 302h3v1h-3zM884 301h1v2h-1zM29 510h3v1h-3zM77 510h3v1h-3zM977 168h1v1h-1zM1378 168h4v1h-4zM520 303h16v1h-16zM550 303h4v1h-4zM560 303h16v1h-16zM605 303h3v1h-3zM883 303h1v1h-1zM372 475h1v1h-1zM460 341h1v1h-1zM685 341h3v1h-3zM856 341h2v1h-2zM1036 125h1v1h-1zM1127 125h2v1h-2zM1217 125h2v1h-2zM1304 125h1v1h-1zM968 176h1v1h-1zM1398 176h2v1h-2zM1062 103h4v1h-4zM1101 103h1v1h-1zM447 361h1v2h-1zM1035 126h1v1h-1zM1129 126h2v1h-2zM1216 126h1v1h-1zM1305 126h2v1h-2zM463 338h1v1h-1zM677 338h3v1h-3zM860 338h1v1h-1zM992 160h1v1h-1zM1360 160h2v1h-2zM1058 105h1v1h-1zM1103 105h1v2h-1zM1133 128h2v1h-2zM1212 128h2v1h-2zM1308 128h2v1h-2zM466 335h1v1h-1zM672 335h1v1h-1zM864 335h1v1h-1zM19 505h2v1h-2zM90 505h6v1h-6zM114 505h14v1h-14zM255 505h2v1h-2zM296 505h2v1h-2zM443 368h1v1h-1zM1042 119h1v1h-1zM1118 119h1v1h-1zM1231 119h2v1h-2zM1293 119h2v1h-2zM27 509h2v1h-2zM80 509h2v1h-2zM945 205h1v2h-1zM978 167h1v1h-1zM1374 167h4v1h-4zM492 311h2v1h-2zM621 311h3v1h-3zM878 310h1v2h-1zM439 374h1v2h-1zM498 307h1v1h-1zM614 307h2v1h-2zM880 307h1v2h-1zM457 345h1v2h-1zM697 346h2v1h-2zM786 346h28v1h-28zM846 346h4v1h-4zM1000 154h1v1h-1zM1353 154h1v1h-1zM904 265h1v2h-1zM385 459h1v2h-1zM1074 99h3v1h-3zM1096 99h1v1h-1zM933 221h1v1h-1zM1018 143h2v1h-2zM1160 143h2v1h-2zM1178 143h4v1h-4zM1338 143h2v1h-2zM473 328h1v1h-1zM660 328h2v1h-2zM869 327h1v2h-1zM442 369h1v2h-1zM896 280h1v1h-1zM995 157h1v1h-1zM1356 157h2v1h-2zM924 234h1v2h-1zM350 493h2v1h-2zM406 429h1v1h-1zM401 436h1v1h-1zM972 172h1v1h-1zM1391 172h2v1h-2zM693 344h2v1h-2zM852 344h2v1h-2zM479 322h1v1h-1zM650 322h2v1h-2zM872 321h1v2h-1zM971 173h1v1h-1zM1393 173h2v1h-2zM976 169h1v1h-1zM1382 169h4v1h-4zM1082 96h10v1h-10zM899 275h1v1h-1zM979 166h5v1h-5zM1371 166h3v1h-3zM1077 98h3v1h-3zM1094 98h2v1h-2zM472 329h1v1h-1zM662 329h2v1h-2zM868 329h1v2h-1zM1006 150h1v1h-1zM1348 150h1v1h-1zM895 281h1v2h-1zM1144 134h1v1h-1zM1204 134h2v1h-2zM1318 134h2v1h-2zM409 425h1v1h-1zM453 351h1v2h-1zM1066 102h3v1h-3zM1100 102h1v1h-1zM887 295h1v2h-1zM586 300h6v1h-6zM597 300h3v1h-3zM477 324h1v1h-1zM654 324h2v1h-2zM871 323h1v2h-1zM360 486h2v1h-2zM1051 111h1v1h-1zM1108 111h1v1h-1zM1245 111h2v1h-2zM1266 111h3v1h-3zM962 181h1v2h-1zM476 325h1v1h-1zM656 325h1v1h-1zM870 325h1v2h-1zM911 253h1v1h-1zM356 489h2v1h-2zM32 511h2v1h-2zM74 511h3v1h-3zM470 331h1v1h-1zM665 331h2v1h-2zM867 331h1v2h-1zM494 310h1v1h-1zM619 310h2v1h-2zM1069 101h3v1h-3zM1099 101h1v1h-1zM452 353h1v2h-1zM56 514h8v1h-8zM373 474h1v1h-1zM695 345h2v1h-2zM850 345h2v1h-2zM1043 118h1v1h-1zM1116 118h2v1h-2zM1233 118h2v1h-2zM1290 118h3v1h-3zM483 318h1v1h-1zM640 318h2v1h-2zM874 317h1v2h-1zM448 360h1v1h-1zM950 198h1v2h-1zM384 461h1v1h-1zM1032 130h1v2h-1zM1137 130h2v1h-2zM1210 130h1v1h-1zM1312 130h1v1h-1zM886 297h1v2h-1zM379 467h1v1h-1zM444 366h1v2h-1zM941 210h1v2h-1zM371 476h1v1h-1zM1025 139h2v1h-2zM1152 139h1v1h-1zM1194 139h3v1h-3zM1327 139h2v1h-2zM938 214h1v2h-1zM949 200h1v1h-1zM415 415h1v2h-1zM944 207h1v1h-1zM478 323h1v1h-1zM652 323h2v1h-2zM929 227h1v1h-1zM898 276h1v2h-1zM438 376h1v1h-1zM411 422h1v1h-1zM894 283h1v1h-1zM488 314h2v1h-2zM629 314h3v1h-3zM998 155h2v1h-2zM1354 155h1v1h-1zM1031 132h1v1h-1zM1140 132h2v1h-2zM1207 132h1v1h-1zM1315 132h1v1h-1zM480 321h1v1h-1zM648 321h2v1h-2zM461 340h1v1h-1zM682 340h3v1h-3zM858 340h1v1h-1zM917 243h1v2h-1zM464 337h1v1h-1zM675 337h2v1h-2zM861 337h1v1h-1zM913 249h1v2h-1zM928 228h1v2h-1zM496 308h2v1h-2zM616 308h1v1h-1zM9 499h2v1h-2zM328 499h6v1h-6zM990 162h1v1h-1zM1363 162h2v1h-2zM3 496h2v1h-2zM342 496h4v1h-4zM433 384h1v2h-1zM1044 117h1v1h-1zM1115 117h1v1h-1zM1235 117h1v1h-1zM1286 117h4v1h-4zM916 245h1v1h-1zM429 391h1v2h-1zM912 251h1v2h-1zM393 447h1v2h-1zM425 398h1v2h-1zM468 333h1v1h-1zM668 333h2v1h-2zM866 333h1v1h-1zM908 258h1v2h-1zM955 191h1v1h-1zM389 453h1v2h-1zM462 339h1v1h-1zM680 339h2v1h-2zM859 339h1v1h-1zM1039 122h1v1h-1zM1122 122h1v1h-1zM1224 122h2v1h-2zM1299 122h1v1h-1zM964 179h1v1h-1zM1403 179h1v1h-1zM365 482h1v1h-1zM1056 107h1v1h-1zM1104 107h1v1h-1zM475 326h1v1h-1zM657 326h2v1h-2zM969 175h1v1h-1zM1396 175h2v1h-2zM946 204h1v1h-1zM428 393h1v2h-1zM424 400h1v2h-1zM973 171h1v1h-1zM1389 171h2v1h-2zM954 192h1v2h-1zM388 455h1v2h-1zM420 407h1v2h-1zM1139 131h1v1h-1zM1208 131h2v1h-2zM1313 131h2v1h-2zM934 220h1v1h-1zM383 462h1v1h-1zM348 494h2v1h-2zM469 332h1v1h-1zM667 332h1v1h-1zM414 417h1v1h-1zM1007 149h1v1h-1zM1347 149h1v1h-1zM410 423h1v2h-1zM495 309h1v1h-1zM617 309h2v1h-2zM879 309h1v1h-1zM893 284h1v2h-1zM921 238h1v2h-1zM889 291h1v2h-1zM965 178h1v1h-1zM1401 178h2v1h-2zM582 301h4v1h-4zM600 301h2v1h-2zM471 330h1v1h-1zM664 330h1v1h-1zM358 488h1v1h-1zM960 184h1v1h-1zM394 445h1v2h-1zM1010 147h1v1h-1zM1344 147h2v1h-2zM892 286h1v2h-1zM484 317h2v1h-2zM637 317h3v1h-3zM951 197h1v1h-1zM888 293h1v2h-1zM991 161h1v1h-1zM1362 161h1v1h-1zM959 185h1v2h-1zM939 213h1v1h-1zM7 498h2v1h-2zM334 498h4v1h-4zM907 260h1v1h-1zM903 267h1v2h-1zM364 483h1v1h-1zM989 163h1v1h-1zM1365 163h2v1h-2zM423 402h1v1h-1zM419 409h1v1h-1zM902 269h1v2h-1zM926 231h1v2h-1zM1057 106h1v1h-1zM399 438h1v2h-1zM897 278h1v2h-1zM1050 112h1v1h-1zM1109 112h1v1h-1zM1243 112h2v1h-2zM1269 112h3v1h-3zM355 490h1v1h-1zM366 481h1v1h-1zM402 434h1v2h-1zM467 334h1v1h-1zM670 334h2v1h-2zM865 334h1v1h-1zM397 441h1v1h-1zM363 484h1v1h-1zM370 477h1v1h-1zM376 470h1v1h-1zM943 208h1v1h-1zM437 377h1v2h-1zM996 156h2v1h-2zM1355 156h1v1h-1zM931 224h1v1h-1zM481 320h1v1h-1zM645 320h3v1h-3zM873 319h1v2h-1zM922 237h1v1h-1zM937 216h1v1h-1zM436 379h1v2h-1zM432 386h1v2h-1zM1004 151h2v1h-2zM1349 151h1v1h-1zM988 164h1v1h-1zM1367 164h2v1h-2zM407 427h1v2h-1zM1011 146h2v1h-2zM1343 146h1v1h-1zM398 440h1v1h-1zM474 327h1v1h-1zM659 327h1v1h-1zM450 356h1v2h-1zM446 363h1v1h-1zM948 201h1v2h-1zM963 180h1v1h-1zM362 485h1v1h-1zM382 463h1v1h-1zM482 319h1v1h-1zM642 319h3v1h-3zM377 469h1v1h-1zM346 495h2v1h-2zM936 217h1v1h-1zM369 478h1v1h-1zM449 358h1v2h-1zM994 158h1v1h-1zM1358 158h1v1h-1zM445 364h1v2h-1zM947 203h1v1h-1zM932 222h1v2h-1zM413 418h1v2h-1zM381 464h1v2h-1zM927 230h1v1h-1zM942 209h1v1h-1zM441 371h1v2h-1zM935 218h1v2h-1zM915 246h1v1h-1zM930 225h1v2h-1zM412 420h1v2h-1zM403 433h1v1h-1zM914 247h1v2h-1zM910 254h1v2h-1zM906 261h1v2h-1zM430 389h1v2h-1zM359 487h1v1h-1zM426 396h1v2h-1zM1001 153h2v1h-2zM1352 153h1v1h-1zM909 256h1v2h-1zM956 189h1v2h-1zM375 471h1v2h-1zM422 403h1v2h-1zM905 263h1v2h-1zM952 195h1v2h-1zM418 410h1v2h-1zM386 458h1v1h-1zM901 271h1v2h-1zM993 159h1v1h-1zM1359 159h1v1h-1zM940 212h1v1h-1zM421 405h1v2h-1zM417 412h1v2h-1zM440 373h1v1h-1zM408 426h1v1h-1zM919 241h1v1h-1zM392 449h1v1h-1zM451 355h1v1h-1zM352 492h1v1h-1zM395 444h1v1h-1zM957 188h1v1h-1zM391 450h1v2h-1zM367 480h1v1h-1zM374 473h1v1h-1zM920 240h1v1h-1zM416 414h1v1h-1zM923 236h1v1h-1zM435 381h1v1h-1zM918 242h1v1h-1zM891 288h1v1h-1zM431 388h1v1h-1zM400 437h1v1h-1zM427 395h1v1h-1zM953 194h1v1h-1zM387 457h1v1h-1zM390 452h1v1h-1zM378 468h1v1h-1zM925 233h1v1h-1z" fill="#ff0000" shape-rendering="crispEdges"/>
<path d="M41 503h2v1h-2zM48 503h14v1h-14zM86 503h4v1h-4zM146 503h2v1h-2zM202 503h6v1h-6zM299 503h2v1h-2zM438 313h1v1h-1zM614 313h1v1h-1zM867 313h1v3h-1zM160 496h24v1h-24zM311 496h1v1h-1zM28 512h2v1h-2zM266 512h19v1h-19zM421 344h1v2h-1zM646 344h2v1h-2zM730 344h28v1h-28zM845 344h2v1h-2zM419 348h1v3h-1zM656 350h2v1h-2zM710 350h4v1h-4zM776 350h2v1h-2zM782 350h4v1h-4zM30 511h1v1h-1zM99 511h10v1h-10zM262 511h4v1h-4zM285 511h3v1h-3zM997 140h1v2h-1zM1105 140h1v2h-1zM1166 141h1v1h-1zM1298 140h1v2h-1zM35 507h1v1h-1zM94 507h2v1h-2zM115 507h3v1h-3zM130 507h4v1h-4zM254 507h2v1h-2zM294 507h1v1h-1zM38 505h2v1h-2zM92 505h1v1h-1zM138 505h4v1h-4zM238 505h4v1h-4zM248 505h4v1h-4zM296 505h2v1h-2zM424 336h1v3h-1zM636 336h2v1h-2zM855 335h1v2h-1zM994 147h1v2h-1zM1110 148h1v1h-1zM1159 148h1v1h-1zM1303 147h1v2h-1zM34 508h1v1h-1zM96 508h1v1h-1zM113 508h2v1h-2zM118 508h4v1h-4zM126 508h4v1h-4zM256 508h1v1h-1zM292 508h2v1h-2zM1003 129h1v1h-1zM1098 128h1v2h-1zM1180 129h1v1h-1zM1287 129h2v1h-2zM1109 146h1v2h-1zM1160 147h1v1h-1zM458 301h6v1h-6zM469 301h3v1h-3zM546 301h6v1h-6zM601 301h1v1h-1zM870 300h1v5h-1zM990 155h1v2h-1zM1120 156h2v1h-2zM1150 156h2v1h-2zM1312 156h1v1h-1zM653 349h3v1h-3zM714 349h3v1h-3zM773 349h3v1h-3zM786 349h6v1h-6zM816 349h13v1h-13zM375 453h1v1h-1zM323 487h3v1h-3zM430 325h1v1h-1zM625 325h1v1h-1zM862 324h1v2h-1zM43 502h5v1h-5zM62 502h4v1h-4zM80 502h6v1h-6zM148 502h2v1h-2zM200 502h2v1h-2zM301 502h3v1h-3zM1025 96h1v2h-1zM1079 96h1v1h-1zM1010 117h1v2h-1zM1093 118h1v2h-1zM1192 118h2v1h-2zM1269 118h1v1h-1zM648 345h1v1h-1zM726 345h4v1h-4zM758 345h4v1h-4zM840 345h5v1h-5zM450 304h3v1h-3zM477 304h3v1h-3zM528 304h2v1h-2zM604 304h1v1h-1zM651 348h2v1h-2zM717 348h3v1h-3zM770 348h3v1h-3zM792 348h24v1h-24zM829 348h3v1h-3zM1080 97h1v1h-1zM910 173h1v2h-1zM944 173h2v1h-2zM980 172h1v2h-1zM1369 173h2v1h-2zM995 144h1v3h-1zM1161 146h1v1h-1zM1302 146h1v1h-1zM442 307h1v2h-1zM488 307h6v1h-6zM512 307h8v1h-8zM608 307h1v1h-1zM869 305h1v4h-1zM426 332h1v2h-1zM632 332h1v1h-1zM858 331h1v2h-1zM907 179h1v3h-1zM963 180h2v1h-2zM974 180h1v1h-1zM1385 180h2v1h-2zM1004 127h1v2h-1zM1097 126h1v2h-1zM1182 127h1v1h-1zM1282 127h3v1h-3zM415 357h1v3h-1zM1038 77h1v1h-1zM1053 77h2v1h-2zM918 160h2v1h-2zM925 160h1v1h-1zM988 159h1v2h-1zM1129 160h2v1h-2zM1144 160h2v1h-2zM1336 160h4v1h-4zM568 299h8v1h-8zM598 299h2v1h-2zM871 296h1v4h-1zM1001 132h1v2h-1zM1101 133h1v2h-1zM1174 133h2v1h-2zM1292 132h1v2h-1zM418 351h1v2h-1zM661 352h3v1h-3zM682 352h6v1h-6zM694 352h4v1h-4zM702 352h4v1h-4zM923 157h1v1h-1zM989 157h1v2h-1zM1122 157h3v1h-3zM1149 157h1v1h-1zM1313 157h2v1h-2zM916 161h2v1h-2zM926 161h1v2h-1zM987 161h1v2h-1zM1131 161h5v1h-5zM1141 161h3v1h-3zM1340 161h1v1h-1zM464 300h5v1h-5zM552 300h16v1h-16zM600 300h1v1h-1zM912 168h1v2h-1zM931 169h9v1h-9zM982 169h1v2h-1zM1354 169h6v1h-6zM40 504h1v1h-1zM90 504h2v1h-2zM142 504h4v1h-4zM208 504h30v1h-30zM298 504h1v1h-1zM357 474h1v1h-1zM893 223h1v4h-1zM1019 106h1v1h-1zM1086 105h1v2h-1zM1213 106h2v1h-2zM1226 106h4v1h-4zM1258 106h1v1h-1zM32 509h2v1h-2zM97 509h1v1h-1zM111 509h2v1h-2zM122 509h4v1h-4zM257 509h2v1h-2zM290 509h2v1h-2zM1021 102h1v2h-1zM1085 103h1v2h-1zM1219 103h2v1h-2zM1240 103h6v1h-6zM1254 103h1v1h-1zM431 323h1v2h-1zM623 323h1v1h-1zM863 322h1v2h-1zM998 138h1v2h-1zM1104 138h1v2h-1zM1167 139h1v2h-1zM1297 139h1v1h-1zM999 136h1v2h-1zM1103 137h1v1h-1zM1169 137h1v1h-1zM1295 136h1v2h-1zM446 305h4v1h-4zM480 305h2v1h-2zM498 305h6v1h-6zM525 305h3v1h-3zM605 305h1v1h-1zM36 506h2v1h-2zM93 506h1v1h-1zM134 506h4v1h-4zM242 506h6v1h-6zM252 506h2v1h-2zM295 506h1v1h-1zM911 170h1v3h-1zM940 170h2v1h-2zM1360 170h5v1h-5zM394 409h1v3h-1zM3 525h10v1h-10zM364 467h1v1h-1zM414 360h1v2h-1zM401 389h1v3h-1zM904 188h1v3h-1zM1397 188h3v1h-3zM1014 112h1v1h-1zM1090 112h1v2h-1zM1203 112h1v1h-1zM1263 111h1v2h-1zM422 341h1v3h-1zM644 342h1v1h-1zM849 342h2v1h-2zM31 510h1v1h-1zM98 510h1v1h-1zM109 510h2v1h-2zM259 510h3v1h-3zM288 510h2v1h-2zM17 522h2v1h-2zM892 227h1v3h-1zM920 159h1v1h-1zM924 158h1v2h-1zM1127 159h2v1h-2zM1146 159h2v1h-2zM1328 159h8v1h-8zM155 497h5v1h-5zM184 497h5v1h-5zM310 497h1v1h-1zM908 177h1v2h-1zM957 177h2v1h-2zM977 176h1v2h-1zM1378 177h3v1h-3zM1034 80h1v2h-1zM1059 80h1v1h-1zM384 435h1v2h-1zM1028 91h1v2h-1zM1074 92h2v1h-2zM1402 190h2v1h-2zM905 185h1v3h-1zM1394 186h1v1h-1zM1060 81h1v1h-1zM1029 89h1v2h-1zM1069 90h3v1h-3zM1043 73h2v1h-2zM1084 101h1v2h-1zM1246 102h4v1h-4zM1252 102h2v1h-2zM1395 187h2v1h-2zM393 412h1v3h-1zM380 443h1v2h-1zM392 415h1v3h-1zM443 306h3v1h-3zM482 306h6v1h-6zM494 306h4v1h-4zM504 306h8v1h-8zM520 306h5v1h-5zM606 306h2v1h-2zM441 309h1v1h-1zM610 309h1v1h-1zM868 309h1v4h-1zM896 214h1v3h-1zM400 392h1v3h-1zM436 315h1v2h-1zM615 314h1v2h-1zM1002 130h1v2h-1zM1099 130h1v1h-1zM1179 130h1v1h-1zM1289 130h2v1h-2zM1117 155h3v1h-3zM1152 155h1v1h-1zM1310 155h2v1h-2zM943 172h1v1h-1zM1367 172h2v1h-2zM408 373h1v2h-1zM1017 108h1v2h-1zM1088 108h1v2h-1zM1208 109h1v1h-1zM1261 109h1v1h-1zM432 322h1v1h-1zM622 322h1v1h-1zM420 346h1v2h-1zM649 346h1v1h-1zM722 346h4v1h-4zM762 346h4v1h-4zM834 346h6v1h-6zM650 347h1v1h-1zM720 347h2v1h-2zM766 347h4v1h-4zM832 347h2v1h-2zM66 501h14v1h-14zM150 501h1v1h-1zM197 501h3v1h-3zM304 501h2v1h-2zM1012 115h1v1h-1zM1091 114h1v2h-1zM1197 115h2v1h-2zM1266 115h1v1h-1zM909 175h1v2h-1zM947 175h5v1h-5zM978 175h1v1h-1zM1373 175h3v1h-3zM383 437h1v2h-1zM906 182h1v3h-1zM969 183h2v1h-2zM972 183h1v1h-1zM1390 183h1v1h-1zM1011 116h1v1h-1zM1092 116h1v2h-1zM1195 116h2v1h-2zM1267 116h1v1h-1zM1209 108h2v1h-2zM1260 108h1v1h-1zM878 270h1v3h-1zM379 445h1v2h-1zM417 353h1v2h-1zM666 354h12v1h-12zM391 418h1v2h-1zM336 483h2v1h-2zM434 318h1v2h-1zM618 318h1v1h-1zM865 318h1v2h-1zM23 517h1v1h-1zM895 217h1v3h-1zM584 297h8v1h-8zM596 297h1v1h-1zM435 317h1v1h-1zM617 317h1v1h-1zM866 316h1v2h-1zM992 151h1v2h-1zM1113 151h1v2h-1zM1155 152h1v1h-1zM1306 151h1v2h-1zM1020 104h1v2h-1zM1215 105h2v1h-2zM1224 105h2v1h-2zM1230 105h4v1h-4zM1256 105h2v1h-2zM407 375h1v2h-1zM952 176h5v1h-5zM1376 176h2v1h-2zM882 259h1v3h-1zM624 324h1v1h-1zM921 158h2v1h-2zM1125 158h2v1h-2zM1148 158h1v1h-1zM1315 158h13v1h-13zM1033 82h1v2h-1zM1062 83h1v1h-1zM1018 107h1v1h-1zM1087 107h1v1h-1zM1211 107h2v1h-2zM1259 107h1v1h-1zM403 383h1v3h-1zM427 330h1v2h-1zM631 331h1v1h-1zM965 181h2v1h-2zM973 181h1v2h-1zM1387 181h1v1h-1zM363 468h1v1h-1zM378 447h1v2h-1zM390 420h1v3h-1zM915 162h1v2h-1zM927 163h1v1h-1zM986 163h1v2h-1zM1342 163h2v1h-2zM1035 79h1v1h-1zM1057 79h2v1h-2zM993 149h1v2h-1zM1111 149h1v1h-1zM1158 149h1v1h-1zM1304 149h1v1h-1zM326 486h4v1h-4zM374 454h1v2h-1zM1031 86h1v1h-1zM1064 86h1v1h-1zM619 319h1v1h-1zM881 262h1v3h-1zM1027 93h1v1h-1zM1076 93h1v1h-1zM1067 89h2v1h-2zM1102 135h1v2h-1zM1170 136h1v1h-1zM370 461h1v1h-1zM1040 75h2v1h-2zM1048 75h2v1h-2zM1013 113h1v2h-1zM1201 113h2v1h-2zM1264 113h1v1h-1zM898 207h1v3h-1zM1400 189h2v1h-2zM1392 185h2v1h-2zM1039 76h1v1h-1zM1050 76h3v1h-3zM151 500h1v1h-1zM194 500h3v1h-3zM306 500h2v1h-2zM1022 101h1v1h-1zM1250 101h2v1h-2zM1036 78h2v1h-2zM1055 78h2v1h-2zM433 320h1v2h-1zM620 320h1v1h-1zM864 320h1v2h-1zM1217 104h2v1h-2zM1221 104h3v1h-3zM1234 104h6v1h-6zM1255 104h1v1h-1zM1015 111h1v1h-1zM1089 110h1v2h-1zM1204 111h2v1h-2zM152 499h2v1h-2zM192 499h2v1h-2zM308 499h1v1h-1zM643 341h1v1h-1zM851 341h1v1h-1zM621 321h1v1h-1zM914 164h1v2h-1zM928 164h1v2h-1zM985 165h1v1h-1zM1345 165h1v1h-1zM456 302h2v1h-2zM472 302h2v1h-2zM542 302h4v1h-4zM602 302h1v1h-1zM1023 99h1v2h-1zM1082 99h1v1h-1zM1030 87h1v2h-1zM1066 88h1v1h-1zM1032 84h1v2h-1zM1063 84h1v2h-1zM315 492h1v1h-1zM967 182h2v1h-2zM1388 182h2v1h-2zM897 210h1v4h-1zM1026 94h1v2h-1zM1078 95h1v1h-1zM439 311h1v2h-1zM612 311h1v1h-1zM429 326h1v2h-1zM627 327h1v1h-1zM861 326h1v2h-1zM884 253h1v3h-1zM930 167h1v2h-1zM983 168h1v1h-1zM1350 168h4v1h-4zM901 198h1v3h-1zM645 343h1v1h-1zM847 343h2v1h-2zM942 171h1v1h-1zM981 171h1v1h-1zM1365 171h2v1h-2zM658 351h3v1h-3zM688 351h6v1h-6zM706 351h4v1h-4zM778 351h4v1h-4zM959 178h2v1h-2zM976 178h1v1h-1zM1381 178h2v1h-2zM1107 144h1v1h-1zM1163 144h1v1h-1zM1300 143h1v2h-1zM338 482h10v1h-10zM1108 145h1v1h-1zM1162 145h1v1h-1zM1301 145h1v1h-1zM440 310h1v1h-1zM611 310h1v1h-1zM1112 150h1v1h-1zM1157 150h1v1h-1zM1305 150h1v1h-1zM1100 131h1v2h-1zM1176 132h1v1h-1zM875 279h1v4h-1zM1194 117h1v1h-1zM1268 117h1v1h-1zM1016 110h1v1h-1zM1206 110h2v1h-2zM1262 110h1v1h-1zM887 243h1v3h-1zM1136 162h5v1h-5zM1341 162h1v1h-1zM428 328h1v2h-1zM629 329h1v1h-1zM860 328h1v2h-1zM355 476h1v1h-1zM996 142h1v2h-1zM1106 142h1v2h-1zM1165 142h1v1h-1zM1299 142h1v1h-1zM913 166h1v2h-1zM929 166h1v1h-1zM984 166h1v2h-1zM1346 166h1v1h-1zM1347 167h3v1h-3zM362 469h1v1h-1zM1000 134h1v2h-1zM1172 134h2v1h-2zM1293 134h1v1h-1zM1344 164h1v1h-1zM1171 135h1v1h-1zM1294 135h1v1h-1zM411 366h1v3h-1zM991 153h1v2h-1zM1115 154h2v1h-2zM1153 154h1v1h-1zM1308 154h2v1h-2zM1065 87h1v1h-1zM15 523h2v1h-2zM369 462h1v1h-1zM1077 94h1v1h-1zM1042 74h1v1h-1zM1045 74h3v1h-3zM1008 121h1v1h-1zM1094 120h1v2h-1zM1188 121h2v1h-2zM1272 121h1v1h-1zM402 386h1v3h-1zM425 334h1v2h-1zM634 334h1v1h-1zM856 334h1v1h-1zM872 291h1v5h-1zM946 174h1v1h-1zM979 174h1v1h-1zM1371 174h2v1h-2zM1177 131h2v1h-2zM1291 131h1v1h-1zM889 236h1v4h-1zM314 493h1v1h-1zM154 498h1v1h-1zM189 498h3v1h-3zM309 498h1v1h-1zM453 303h3v1h-3zM474 303h3v1h-3zM530 303h12v1h-12zM603 303h1v1h-1zM1005 125h1v2h-1zM1096 124h1v2h-1zM1184 125h1v1h-1zM1277 125h3v1h-3zM333 484h3v1h-3zM664 353h2v1h-2zM678 353h4v1h-4zM698 353h4v1h-4zM21 519h1v1h-1zM409 371h1v2h-1zM321 488h2v1h-2zM576 298h8v1h-8zM597 298h1v1h-1zM348 481h2v1h-2zM626 326h1v1h-1zM1009 119h1v2h-1zM1191 119h1v1h-1zM1270 119h1v1h-1zM1156 151h1v1h-1zM1183 126h1v1h-1zM1280 126h2v1h-2zM356 475h1v1h-1zM396 403h1v3h-1zM1024 98h1v1h-1zM1081 98h1v1h-1zM368 463h1v1h-1zM628 328h1v1h-1zM1114 153h1v1h-1zM1154 153h1v1h-1zM1307 153h1v1h-1zM874 283h1v4h-1zM387 429h1v2h-1zM316 491h2v1h-2zM395 406h1v3h-1zM1190 120h1v1h-1zM1271 120h1v1h-1zM313 494h1v1h-1zM1199 114h2v1h-2zM1265 114h1v1h-1zM13 524h2v1h-2zM386 431h1v2h-1zM1083 100h1v1h-1zM382 439h1v2h-1zM877 273h1v3h-1zM635 335h1v1h-1zM639 338h1v1h-1zM853 338h1v1h-1zM22 518h1v1h-1zM410 369h1v2h-1zM971 184h1v1h-1zM1391 184h1v1h-1zM406 377h1v2h-1zM961 179h2v1h-2zM975 179h1v1h-1zM1383 179h2v1h-2zM638 337h1v1h-1zM854 337h1v1h-1zM389 423h1v3h-1zM883 256h1v3h-1zM900 201h1v3h-1zM405 379h1v2h-1zM367 464h1v1h-1zM416 355h1v2h-1zM886 246h1v3h-1zM903 191h1v4h-1zM1006 124h1v1h-1zM1185 124h1v1h-1zM1275 124h2v1h-2zM312 495h1v1h-1zM1181 128h1v1h-1zM1285 128h2v1h-2zM613 312h1v1h-1zM885 249h1v4h-1zM330 485h3v1h-3zM399 395h1v2h-1zM385 433h1v2h-1zM630 330h1v1h-1zM859 330h1v1h-1zM592 296h4v1h-4zM1168 138h1v1h-1zM1296 138h1v1h-1zM354 477h1v1h-1zM1164 143h1v1h-1zM423 339h1v2h-1zM640 339h2v1h-2zM852 339h1v2h-1zM361 470h1v1h-1zM642 340h1v1h-1zM437 314h1v1h-1zM352 478h2v1h-2zM404 381h1v2h-1zM359 472h1v1h-1zM413 362h1v2h-1zM899 204h1v3h-1zM633 333h1v1h-1zM857 333h1v1h-1zM873 287h1v4h-1zM20 520h1v1h-1zM27 513h1v1h-1zM894 220h1v3h-1zM398 397h1v3h-1zM902 195h1v3h-1zM318 490h2v1h-2zM25 515h1v1h-1zM381 441h1v2h-1zM876 276h1v3h-1zM377 449h1v2h-1zM397 400h1v3h-1zM373 456h1v2h-1zM880 265h1v3h-1zM888 240h1v3h-1zM360 471h1v1h-1zM376 451h1v2h-1zM388 426h1v3h-1zM372 458h1v2h-1zM1007 122h1v2h-1zM1095 122h1v2h-1zM1186 123h1v1h-1zM1274 123h1v1h-1zM412 364h1v2h-1zM891 230h1v3h-1zM19 521h1v1h-1zM890 233h1v3h-1zM609 308h1v1h-1zM1187 122h1v1h-1zM1273 122h1v1h-1zM26 514h1v1h-1zM350 480h1v1h-1zM366 465h1v1h-1zM1061 82h1v1h-1zM371 460h1v1h-1zM1072 91h2v1h-2zM879 268h1v2h-1zM320 489h1v1h-1zM358 473h1v1h-1zM365 466h1v1h-1zM616 316h1v1h-1zM24 516h1v1h-1zM351 479h1v1h-1z" fill="#0000ff" shape-rendering="crispEdges"/>
<g shape-rendering="crispEdges">
<rect x="3" y="40" width="1415" height="3" fill="#ff0000"/>
<rect x="3" y="135" width="1415" height="3" fill="#ff0000"/>
<rect x="3" y="231" width="1415" height="3" fill="#00ff00"/>
<rect x="3" y="326" width="1415" height="3" fill="#0000ff"/>
<rect x="3" y="402" width="1415" height="3" fill="#0000ff"/>
</g>
<g shape-rendering="crispEdges"><rect x="3" y="634" width="1" height="27" fill="#c0c0c0"/><rect x="11" y="634" width="1" height="26" fill="#c0c0c0"/><rect x="19" y="634" width="1" height="24" fill="#c0c0c0"/><rect x="27" y="634" width="1" height="20" fill="#c0c0c0"/><rect x="35" y="634" width="1" height="17" fill="#c0c0c0"/><rect x="43" y="634" width="1" height="15" fill="#c0c0c0"/><rect x="51" y="634" width="1" height="15" fill="#c0c0c0"/><rect x="59" y="634" width="1" height="15" fill="#c0c0c0"/><rect x="67" y="634" width="1" height="13" fill="#c0c0c0"/><rect x="75" y="634" width="1" height="13" fill="#c0c0c0"/><rect x="83" y="634" width="1" height="11" fill="#c0c0c0"/><rect x="91" y="634" width="1" height="10" fill="#c0c0c0"/><rect x="99" y="634" width="1" height="13" fill="#c0c0c0"/><rect x="107" y="634" width="1" height="12" fill="#c0c0c0"/><rect x="115" y="634" width="1" height="10" fill="#c0c0c0"/><rect x="123" y="634" width="1" height="9" fill="#c0c0c0"/><rect x="131" y="634" width="1" height="7" fill="#c0c0c0"/><rect x="139" y="634" width="1" height="5" fill="#c0c0c0"/><rect x="147" y="634" width="1" height="3" fill="#c0c0c0"/><rect x="155" y="634" width="1" height="2" fill="#c0c0c0"/><rect x="163" y="634" width="1" height="2" fill="#c0c0c0"/><rect x="171" y="634" width="1" height="2" fill="#c0c0c0"/><rect x="179" y="634" width="1" height="2" fill="#c0c0c0"/><rect x="187" y="634" width="1" height="3" fill="#c0c0c0"/><rect x="195" y="634" width="1" height="3" fill="#c0c0c0"/><rect x="203" y="634" width="1" height="3" fill="#c0c0c0"/><rect x="211" y="634" width="1" height="3" fill="#c0c0c0"/><rect x="219" y="634" width="1" height="3" fill="#c0c0c0"/><rect x="227" y="634" width="1" height="2" fill="#c0c0c0"/><rect x="235" y="634" width="1" height="3" fill="#c0c0c0"/><rect x="243" y="634" width="1" height="3" fill="#c0c0c0"/><rect x="251" y="634" width="1" height="3" fill="#c0c0c0"/><rect x="259" y="634" width="1" height="6" fill="#c0c0c0"/><rect x="267" y="634" width="1" height="6" fill="#c0c0c0"/><rect x="275" y="634" width="1" height="5" fill="#c0c0c0"/><rect x="283" y="634" width="1" height="3" fill="#c0c0c0"/><rect x="291" y="634" width="1" height="1" fill="#c0c0c0"/><rect x="299" y="632" width="1" height="2" fill="#c0c0c0"/><rect x="307" y="631" width="1" height="3" fill="#c0c0c0"/><rect x="315" y="629" width="1" height="5" fill="#c0c0c0"/><rect x="323" y="629" width="1" height="5" fill="#c0c0c0"/><rect x="331" y="629" width="1" height="5" fill="#c0c0c0"/><rect x="339" y="627" width="1" height="7" fill="#c0c0c0"/><rect x="347" y="627" width="1" height="7" fill="#c0c0c0"/><rect x="355" y="623" width="1" height="11" fill="#c0c0c0"/><rect x="363" y="618" width="1" height="16" fill="#c0c0c0"/><rect x="371" y="614" width="1" height="20" fill="#c0c0c0"/><rect x="379" y="608" width="1" height="26" fill="#c0c0c0"/><rect x="387" y="603" width="1" height="31" fill="#c0c0c0"/><rect x="395" y="593" width="1" height="41" fill="#c0c0c0"/><rect x="403" y="586" width="1" height="48" fill="#c0c0c0"/><rect x="411" y="582" width="1" height="52" fill="#c0c0c0"/><rect x="419" y="576" width="1" height="58" fill="#c0c0c0"/><rect x="427" y="572" width="1" height="62" fill="#c0c0c0"/><rect x="435" y="570" width="1" height="64" fill="#c0c0c0"/><rect x="443" y="570" width="1" height="64" fill="#c0c0c0"/><rect x="451" y="569" width="1" height="65" fill="#c0c0c0"/><rect x="459" y="571" width="1" height="63" fill="#c0c0c0"/><rect x="467" y="574" width="1" height="60" fill="#c0c0c0"/><rect x="475" y="577" width="1" height="57" fill="#c0c0c0"/><rect x="483" y="580" width="1" height="54" fill="#c0c0c0"/><rect x="491" y="581" width="1" height="53" fill="#c0c0c0"/><rect x="499" y="582" width="1" height="52" fill="#c0c0c0"/><rect x="507" y="584" width="1" height="50" fill="#c0c0c0"/><rect x="515" y="588" width="1" height="46" fill="#c0c0c0"/><rect x="523" y="590" width="1" height="44" fill="#c0c0c0"/><rect x="531" y="593" width="1" height="41" fill="#c0c0c0"/><rect x="539" y="595" width="1" height="39" fill="#c0c0c0"/><rect x="547" y="596" width="1" height="38" fill="#c0c0c0"/><rect x="555" y="596" width="1" height="38" fill="#c0c0c0"/><rect x="563" y="599" width="1" height="35" fill="#c0c0c0"/><rect x="571" y="602" width="1" height="32" fill="#c0c0c0"/><rect x="579" y="604" width="1" height="30" fill="#c0c0c0"/><rect x="587" y="605" width="1" height="29" fill="#c0c0c0"/><rect x="595" y="607" width="1" height="27" fill="#c0c0c0"/><rect x="603" y="612" width="1" height="22" fill="#c0c0c0"/><rect x="611" y="617" width="1" height="17" fill="#c0c0c0"/><rect x="619" y="623" width="1" height="11" fill="#c0c0c0"/><rect x="627" y="628" width="1" height="6" fill="#c0c0c0"/><rect x="635" y="631" width="1" height="3" fill="#c0c0c0"/><rect x="643" y="632" width="1" height="2" fill="#c0c0c0"/><rect x="651" y="634" width="1" height="1" fill="#c0c0c0"/><rect x="659" y="634" width="1" height="2" fill="#c0c0c0"/><rect x="667" y="634" width="1" height="4" fill="#c0c0c0"/><rect x="675" y="634" width="1" height="6" fill="#c0c0c0"/><rect x="683" y="634" width="1" height="6" fill="#c0c0c0"/><rect x="691" y="634" width="1" height="5" fill="#c0c0c0"/><rect x="699" y="634" width="1" height="6" fill="#c0c0c0"/><rect x="707" y="634" width="1" height="4" fill="#c0c0c0"/><rect x="715" y="634" width="1" height="3" fill="#c0c0c0"/><rect x="723" y="634" width="1" height="2" fill="#c0c0c0"/><rect x="731" y="634" width="1" height="3" fill="#c0c0c0"/><rect x="739" y="634" width="1" height="4" fill="#c0c0c0"/><rect x="747" y="634" width="1" height="4" fill="#c0c0c0"/><rect x="755" y="634" width="1" height="4" fill="#c0c0c0"/><rect x="763" y="634" width="1" height="4" fill="#c0c0c0"/><rect x="771" y="634" width="1" height="4" fill="#c0c0c0"/><rect x="779" y="634" width="1" height="4" fill="#c0c0c0"/><rect x="787" y="634" width="1" height="3" fill="#c0c0c0"/><rect x="795" y="634" width="1" height="3" fill="#c0c0c0"/><rect x="803" y="634" width="1" height="2" fill="#c0c0c0"/><rect x="811" y="634" width="1" height="3" fill="#c0c0c0"/><rect x="819" y="634" width="1" height="3" fill="#c0c0c0"/><rect x="827" y="634" width="1" height="3" fill="#c0c0c0"/><rect x="835" y="634" width="1" height="1" fill="#c0c0c0"/><rect x="843" y="634" width="1" height="1" fill="#c0c0c0"/><rect x="851" y="632" width="1" height="2" fill="#c0c0c0"/><rect x="859" y="624" width="1" height="10" fill="#c0c0c0"/><rect x="867" y="618" width="1" height="16" fill="#c0c0c0"/><rect x="875" y="599" width="1" height="35" fill="#c0c0c0"/><rect x="883" y="592" width="1" height="42" fill="#c0c0c0"/><rect x="891" y="583" width="1" height="51" fill="#c0c0c0"/><rect x="899" y="578" width="1" height="56" fill="#c0c0c0"/><rect x="907" y="573" width="1" height="61" fill="#c0c0c0"/><rect x="915" y="569" width="1" height="65" fill="#c0c0c0"/><rect x="923" y="575" width="1" height="59" fill="#c0c0c0"/><rect x="931" y="577" width="1" height="57" fill="#c0c0c0"/><rect x="939" y="580" width="1" height="54" fill="#c0c0c0"/><rect x="947" y="582" width="1" height="52" fill="#c0c0c0"/><rect x="955" y="583" width="1" height="51" fill="#c0c0c0"/><rect x="963" y="583" width="1" height="51" fill="#c0c0c0"/><rect x="971" y="585" width="1" height="49" fill="#c0c0c0"/><rect x="979" y="585" width="1" height="49" fill="#c0c0c0"/><rect x="987" y="581" width="1" height="53" fill="#c0c0c0"/><rect x="995" y="575" width="1" height="59" fill="#c0c0c0"/><rect x="1003" y="572" width="1" height="62" fill="#c0c0c0"/><rect x="1011" y="570" width="1" height="64" fill="#c0c0c0"/><rect x="1019" y="571" width="1" height="63" fill="#c0c0c0"/><rect x="1027" y="571" width="1" height="63" fill="#c0c0c0"/><rect x="1035" y="569" width="1" height="65" fill="#c0c0c0"/><rect x="1043" y="570" width="1" height="64" fill="#c0c0c0"/><rect x="1051" y="574" width="1" height="60" fill="#c0c0c0"/><rect x="1059" y="578" width="1" height="56" fill="#c0c0c0"/><rect x="1067" y="586" width="1" height="48" fill="#c0c0c0"/><rect x="1075" y="591" width="1" height="43" fill="#c0c0c0"/><rect x="1083" y="596" width="1" height="38" fill="#c0c0c0"/><rect x="1091" y="602" width="1" height="32" fill="#c0c0c0"/><rect x="1099" y="610" width="1" height="24" fill="#c0c0c0"/><rect x="1107" y="618" width="1" height="16" fill="#c0c0c0"/><rect x="1115" y="623" width="1" height="11" fill="#c0c0c0"/><rect x="1123" y="625" width="1" height="9" fill="#c0c0c0"/><rect x="1131" y="626" width="1" height="8" fill="#c0c0c0"/><rect x="1139" y="626" width="1" height="8" fill="#c0c0c0"/><rect x="1147" y="625" width="1" height="9" fill="#c0c0c0"/><rect x="1155" y="624" width="1" height="10" fill="#c0c0c0"/><rect x="1163" y="625" width="1" height="9" fill="#c0c0c0"/><rect x="1171" y="623" width="1" height="11" fill="#c0c0c0"/><rect x="1179" y="622" width="1" height="12" fill="#c0c0c0"/><rect x="1187" y="619" width="1" height="15" fill="#c0c0c0"/><rect x="1195" y="617" width="1" height="17" fill="#c0c0c0"/><rect x="1203" y="616" width="1" height="18" fill="#c0c0c0"/><rect x="1211" y="615" width="1" height="19" fill="#c0c0c0"/><rect x="1219" y="616" width="1" height="18" fill="#c0c0c0"/><rect x="1227" y="619" width="1" height="15" fill="#c0c0c0"/><rect x="1235" y="619" width="1" height="15" fill="#c0c0c0"/><rect x="1243" y="617" width="1" height="17" fill="#c0c0c0"/><rect x="1251" y="616" width="1" height="18" fill="#c0c0c0"/><rect x="1259" y="620" width="1" height="14" fill="#c0c0c0"/><rect x="1267" y="626" width="1" height="8" fill="#c0c0c0"/><rect x="1275" y="631" width="1" height="3" fill="#c0c0c0"/><rect x="1283" y="634" width="1" height="1" fill="#c0c0c0"/><rect x="1291" y="634" width="1" height="1" fill="#c0c0c0"/><rect x="1299" y="634" width="1" height="3" fill="#c0c0c0"/><rect x="1307" y="634" width="1" height="6" fill="#c0c0c0"/><rect x="1315" y="634" width="1" height="8" fill="#c0c0c0"/><rect x="1323" y="634" width="1" height="9" fill="#c0c0c0"/><rect x="1331" y="634" width="1" height="11" fill="#c0c0c0"/><rect x="1339" y="634" width="1" height="11" fill="#c0c0c0"/><rect x="1347" y="634" width="1" height="14" fill="#c0c0c0"/><rect x="1355" y="634" width="1" height="14" fill="#c0c0c0"/><rect x="1363" y="634" width="1" height="14" fill="#c0c0c0"/><rect x="1371" y="634" width="1" height="16" fill="#c0c0c0"/><rect x="1379" y="634" width="1" height="17" fill="#c0c0c0"/><rect x="1387" y="634" width="1" height="18" fill="#c0c0c0"/><rect x="1395" y="634" width="1" height="20" fill="#c0c0c0"/><rect x="1403" y="634" width="1" height="21" fill="#c0c0c0"/></g>
<path d="M321 635h3v1h-3zM327 635h1v1h-1zM688 635h2v1h-2zM693 635h1v1h-1zM855 635h3v1h-3zM1325 635h1v1h-1zM472 573h2v1h-2zM477 573h3v1h-3zM483 573h3v1h-3zM1047 573h3v1h-3zM1065 573h3v1h-3zM447 582h2v1h-2zM526 582h2v1h-2zM1091 582h1v1h-1zM561 591h1v1h-1zM922 591h1v1h-1zM627 611h2v1h-2zM899 611h1v1h-1zM443 584h1v1h-1zM533 584h1v1h-1zM933 584h2v1h-2zM1095 584h2v1h-2zM400 613h1v1h-1zM633 613h1v1h-1zM897 613h1v1h-1zM1139 613h1v1h-1zM3 661h3v1h-3zM9 661h3v1h-3zM15 661h3v1h-3zM21 661h3v1h-3zM27 661h3v1h-3zM184 638h2v1h-2zM189 638h3v1h-3zM267 638h3v1h-3zM273 638h3v1h-3zM279 638h3v1h-3zM285 638h3v1h-3zM291 638h3v1h-3zM712 638h2v1h-2zM717 638h3v1h-3zM723 638h3v1h-3zM729 638h3v1h-3zM735 638h3v1h-3zM741 638h3v1h-3zM747 638h3v1h-3zM753 638h3v1h-3zM759 638h3v1h-3zM765 638h3v1h-3zM795 638h3v1h-3zM1335 638h3v1h-3zM412 605h2v1h-2zM615 605h1v1h-1zM1126 605h1v1h-1zM99 647h3v1h-3zM105 647h3v1h-3zM111 647h1v1h-1zM1378 647h2v1h-2zM1383 647h1v1h-1zM87 649h3v1h-3zM1395 649h3v1h-3zM63 654h3v1h-3zM621 608h2v1h-2zM903 608h1v1h-1zM449 581h1v1h-1zM525 581h1v1h-1zM939 581h3v1h-3zM987 581h3v1h-3zM993 581h3v1h-3zM999 581h3v1h-3zM1005 581h3v1h-3zM1089 581h2v1h-2zM129 645h3v1h-3zM135 645h1v1h-1zM1371 645h3v1h-3zM657 623h1v1h-1zM1162 623h2v1h-2zM1167 623h1v1h-1zM1192 623h2v1h-2zM1197 623h3v1h-3zM1287 623h3v1h-3zM389 619h1v1h-1zM645 619h3v1h-3zM1227 619h3v1h-3zM1233 619h3v1h-3zM1239 619h1v1h-1zM1270 619h2v1h-2zM466 574h2v1h-2zM471 574h1v1h-1zM489 574h3v1h-3zM495 574h1v1h-1zM1041 574h3v1h-3zM1071 574h3v1h-3zM136 644h2v1h-2zM141 644h3v1h-3zM1360 644h2v1h-2zM1365 644h3v1h-3zM417 602h1v1h-1zM603 602h3v1h-3zM909 602h1v1h-1zM1121 602h1v1h-1zM375 624h3v1h-3zM658 624h2v1h-2zM881 624h1v1h-1zM1168 624h2v1h-2zM1173 624h3v1h-3zM1179 624h3v1h-3zM1185 624h3v1h-3zM1191 624h1v1h-1zM1293 624h1v1h-1zM574 595h2v1h-2zM916 595h2v1h-2zM195 637h3v1h-3zM201 637h3v1h-3zM207 637h3v1h-3zM213 637h3v1h-3zM219 637h3v1h-3zM225 637h3v1h-3zM231 637h3v1h-3zM237 637h3v1h-3zM243 637h3v1h-3zM249 637h3v1h-3zM255 637h3v1h-3zM261 637h3v1h-3zM297 637h3v1h-3zM303 637h3v1h-3zM309 637h3v1h-3zM699 637h3v1h-3zM705 637h3v1h-3zM711 637h1v1h-1zM771 637h3v1h-3zM777 637h3v1h-3zM783 637h3v1h-3zM789 637h3v1h-3zM801 637h3v1h-3zM807 637h3v1h-3zM813 637h3v1h-3zM819 637h3v1h-3zM825 637h3v1h-3zM831 637h3v1h-3zM837 637h3v1h-3zM843 637h3v1h-3zM1330 637h2v1h-2zM395 616h1v1h-1zM639 616h2v1h-2zM892 616h2v1h-2zM1145 616h1v1h-1zM339 632h3v1h-3zM677 632h1v1h-1zM867 632h2v1h-2zM1317 632h3v1h-3zM435 589h1v1h-1zM555 589h2v1h-2zM1103 589h1v1h-1zM411 606h1v1h-1zM616 606h2v1h-2zM905 606h1v1h-1zM1127 606h1v1h-1zM453 579h3v1h-3zM514 579h2v1h-2zM946 579h2v1h-2zM951 579h1v1h-1zM969 579h3v1h-3zM975 579h1v1h-1zM1017 579h1v1h-1zM1085 579h1v1h-1zM369 626h1v1h-1zM663 626h2v1h-2zM879 626h1v1h-1zM1299 626h3v1h-3zM381 622h3v1h-3zM653 622h1v1h-1zM885 622h1v1h-1zM1161 622h1v1h-1zM1203 622h3v1h-3zM1282 622h2v1h-2zM418 601h1v1h-1zM598 601h2v1h-2zM910 601h1v1h-1zM1120 601h1v1h-1zM465 575h1v1h-1zM496 575h2v1h-2zM501 575h3v1h-3zM1035 575h3v1h-3zM399 614h1v1h-1zM634 614h2v1h-2zM363 627h3v1h-3zM665 627h1v1h-1zM1305 627h1v1h-1zM393 617h2v1h-2zM641 617h1v1h-1zM891 617h1v1h-1zM1251 617h3v1h-3zM1257 617h3v1h-3zM1263 617h1v1h-1zM57 655h3v1h-3zM345 631h3v1h-3zM675 631h2v1h-2zM869 631h1v1h-1zM112 646h2v1h-2zM117 646h3v1h-3zM123 646h3v1h-3zM1377 646h1v1h-1zM387 620h2v1h-2zM887 620h1v1h-1zM1155 620h2v1h-2zM1216 620h2v1h-2zM1221 620h3v1h-3zM1275 620h3v1h-3zM177 639h3v1h-3zM183 639h1v1h-1zM1341 639h1v1h-1zM357 629h1v1h-1zM669 629h3v1h-3zM873 629h2v1h-2zM1311 629h1v1h-1zM461 576h1v1h-1zM507 576h2v1h-2zM1030 576h2v1h-2zM1077 576h3v1h-3zM513 578h1v1h-1zM952 578h2v1h-2zM957 578h3v1h-3zM963 578h3v1h-3zM1018 578h2v1h-2zM1023 578h1v1h-1zM1083 578h2v1h-2zM153 642h3v1h-3zM159 642h1v1h-1zM1353 642h1v1h-1zM334 633h2v1h-2zM681 633h1v1h-1zM862 633h2v1h-2zM315 636h3v1h-3zM694 636h2v1h-2zM849 636h3v1h-3zM1329 636h1v1h-1zM45 658h1v1h-1zM147 643h3v1h-3zM1354 643h2v1h-2zM1359 643h1v1h-1zM543 587h3v1h-3zM928 587h1v1h-1zM1101 587h1v1h-1zM351 630h3v1h-3zM1312 630h2v1h-2zM70 652h2v1h-2zM419 600h1v1h-1zM597 600h1v1h-1zM911 600h1v1h-1zM1119 600h1v1h-1zM1143 615h2v1h-2zM1149 618h3v1h-3zM1240 618h2v1h-2zM1245 618h3v1h-3zM1264 618h2v1h-2zM1269 618h1v1h-1zM441 585h2v1h-2zM537 585h1v1h-1zM1097 585h1v1h-1zM81 650h3v1h-3zM1401 650h3v1h-3zM51 656h3v1h-3zM904 607h1v1h-1zM651 621h2v1h-2zM886 621h1v1h-1zM1157 621h1v1h-1zM1209 621h3v1h-3zM1215 621h1v1h-1zM1281 621h1v1h-1zM425 596h1v1h-1zM579 596h3v1h-3zM915 596h1v1h-1zM1113 596h1v1h-1zM171 640h3v1h-3zM1342 640h2v1h-2zM39 659h3v1h-3zM93 648h3v1h-3zM1384 648h2v1h-2zM1389 648h3v1h-3zM424 597h1v1h-1zM585 597h1v1h-1zM1114 597h1v1h-1zM405 610h1v1h-1zM1133 610h1v1h-1zM519 580h3v1h-3zM945 580h1v1h-1zM976 580h2v1h-2zM981 580h3v1h-3zM1011 580h3v1h-3zM431 592h1v1h-1zM562 592h2v1h-2zM921 592h1v1h-1zM1107 592h1v1h-1zM430 593h1v1h-1zM567 593h3v1h-3zM1108 593h2v1h-2zM160 641h2v1h-2zM165 641h3v1h-3zM1347 641h3v1h-3zM1053 572h3v1h-3zM1059 572h3v1h-3zM423 598h1v1h-1zM586 598h2v1h-2zM1115 598h1v1h-1zM33 660h3v1h-3zM328 634h2v1h-2zM333 634h1v1h-1zM682 634h2v1h-2zM687 634h1v1h-1zM861 634h1v1h-1zM1323 634h2v1h-2zM406 609h2v1h-2zM623 609h1v1h-1zM1131 609h2v1h-2zM610 604h2v1h-2zM1125 604h1v1h-1zM401 612h1v1h-1zM629 612h1v1h-1zM898 612h1v1h-1zM1137 612h2v1h-2zM370 625h2v1h-2zM880 625h1v1h-1zM1294 625h2v1h-2zM591 599h3v1h-3zM429 594h1v1h-1zM573 594h1v1h-1zM459 577h2v1h-2zM509 577h1v1h-1zM1024 577h2v1h-2zM1029 577h1v1h-1zM436 588h2v1h-2zM549 588h3v1h-3zM927 588h1v1h-1zM1102 588h1v1h-1zM75 651h3v1h-3zM557 590h1v1h-1zM923 590h1v1h-1zM538 586h2v1h-2zM929 586h1v1h-1zM358 628h2v1h-2zM875 628h1v1h-1zM1306 628h2v1h-2zM531 583h2v1h-2zM935 583h1v1h-1zM609 603h1v1h-1zM46 657h2v1h-2zM69 653h1v1h-1z" fill="#ff0000" shape-rendering="crispEdges"/>
<line x1="3" y1="709.5" x2="1418" y2="709.5" stroke="#c0c0c0" stroke-dasharray="3,3"/>
<line x1="3" y1="760.5" x2="1418" y2="760.5" stroke="#c0c0c0" stroke-dasharray="3,3"/>
<path d="M351 721h1v2h-1zM563 721h5v1h-5zM595 721h1v1h-1zM851 720h1v2h-1zM921 721h1v2h-1zM949 721h2v1h-2zM1051 721h3v1h-3zM1187 721h5v1h-5zM1200 721h8v1h-8zM1243 721h5v1h-5zM378 703h1v1h-1zM457 703h2v1h-2zM859 703h1v1h-1zM881 703h1v3h-1zM21 741h1v1h-1zM46 741h2v1h-2zM64 741h1v1h-1zM73 741h2v1h-2zM77 741h2v1h-2zM92 741h1v2h-1zM106 741h1v2h-1zM194 741h3v1h-3zM234 741h1v1h-1zM246 741h1v1h-1zM253 740h1v2h-1zM266 740h1v2h-1zM612 741h1v2h-1zM640 741h1v1h-1zM652 741h2v1h-2zM681 741h1v2h-1zM698 741h2v1h-2zM730 741h1v1h-1zM733 741h3v1h-3zM754 741h3v1h-3zM778 741h2v1h-2zM811 741h5v1h-5zM820 741h1v1h-1zM1098 741h1v1h-1zM1115 741h1v1h-1zM1261 741h1v1h-1zM1284 741h2v1h-2zM1297 741h1v1h-1zM98 749h1v2h-1zM100 749h1v2h-1zM258 749h1v2h-1zM260 749h1v2h-1zM618 749h1v2h-1zM626 749h2v1h-2zM672 749h1v1h-1zM676 749h1v2h-1zM1347 749h1v1h-1zM1371 749h13v1h-13zM873 688h1v2h-1zM876 687h1v3h-1zM388 700h1v1h-1zM440 700h2v1h-2zM448 700h5v1h-5zM867 700h1v1h-1zM880 700h1v3h-1zM20 742h1v1h-1zM48 742h1v1h-1zM63 742h1v1h-1zM75 742h2v1h-2zM235 742h5v1h-5zM244 742h2v1h-2zM254 742h1v2h-1zM265 742h1v1h-1zM638 742h2v1h-2zM654 742h2v1h-2zM731 742h2v1h-2zM816 742h4v1h-4zM1099 742h2v1h-2zM1113 742h2v1h-2zM1262 742h2v1h-2zM1283 742h1v1h-1zM1298 742h1v1h-1zM1339 742h1v1h-1zM374 706h2v1h-2zM462 706h1v1h-1zM857 706h1v2h-1zM882 706h1v3h-1zM891 706h5v1h-5zM904 706h8v1h-8zM915 706h1v1h-1zM993 706h2v1h-2zM1000 706h8v1h-8zM1012 706h1v1h-1zM22 740h2v1h-2zM45 740h1v1h-1zM65 740h1v1h-1zM71 740h2v1h-2zM79 740h2v1h-2zM90 740h2v1h-2zM107 740h1v1h-1zM179 740h5v1h-5zM190 740h4v1h-4zM197 740h2v1h-2zM233 739h1v2h-1zM247 740h1v1h-1zM608 740h4v1h-4zM641 740h2v1h-2zM648 740h4v1h-4zM682 739h1v2h-1zM696 740h2v1h-2zM700 740h1v1h-1zM729 739h1v2h-1zM736 740h2v1h-2zM752 740h2v1h-2zM757 740h2v1h-2zM774 740h4v1h-4zM780 740h2v1h-2zM810 740h1v1h-1zM821 740h1v1h-1zM1096 740h2v1h-2zM1116 740h2v1h-2zM1260 740h1v1h-1zM1286 740h1v1h-1zM1296 740h1v1h-1zM293 727h2v1h-2zM305 727h2v1h-2zM312 727h8v1h-8zM336 727h2v1h-2zM342 727h2v1h-2zM348 727h1v2h-1zM598 726h1v3h-1zM846 727h1v1h-1zM923 727h1v1h-1zM1063 727h1v2h-1zM1169 727h2v1h-2zM1217 727h1v1h-1zM1236 727h1v1h-1zM1253 726h1v2h-1zM365 711h3v1h-3zM469 711h3v1h-3zM480 711h2v1h-2zM509 711h1v1h-1zM545 711h2v1h-2zM556 711h1v2h-1zM855 711h1v2h-1zM917 710h1v2h-1zM985 711h1v1h-1zM1016 711h1v1h-1zM1026 711h3v1h-3zM1041 711h2v1h-2zM373 707h1v1h-1zM463 707h1v1h-1zM496 707h6v1h-6zM889 707h2v1h-2zM896 707h8v1h-8zM916 707h1v3h-1zM991 707h2v1h-2zM1013 707h1v1h-1zM1035 707h1v1h-1zM137 732h2v1h-2zM150 732h1v1h-1zM227 732h1v1h-1zM281 732h2v1h-2zM600 731h1v3h-1zM706 732h1v1h-1zM709 732h3v1h-3zM722 732h2v1h-2zM830 732h2v1h-2zM1067 732h2v1h-2zM1084 732h2v1h-2zM1138 732h3v1h-3zM1222 732h2v1h-2zM1231 732h1v1h-1zM1256 732h1v2h-1zM290 728h3v1h-3zM307 728h5v1h-5zM320 728h5v1h-5zM335 728h1v1h-1zM344 728h1v1h-1zM835 728h2v1h-2zM845 728h1v2h-1zM1147 728h3v1h-3zM1168 728h1v1h-1zM1218 728h1v1h-1zM1235 728h1v1h-1zM1254 728h1v2h-1zM352 719h1v2h-1zM562 719h1v2h-1zM568 720h8v1h-8zM594 720h2v1h-2zM920 718h1v3h-1zM951 720h2v1h-2zM970 720h3v1h-3zM1050 720h1v1h-1zM3 746h5v1h-5zM13 746h2v1h-2zM56 746h4v1h-4zM95 745h1v2h-1zM103 745h1v2h-1zM256 745h1v2h-1zM262 746h1v2h-1zM615 745h1v2h-1zM632 746h1v1h-1zM664 746h4v1h-4zM678 746h1v1h-1zM1107 746h1v1h-1zM1267 746h5v1h-5zM1276 746h2v1h-2zM1330 746h3v1h-3zM1344 746h1v1h-1zM1352 746h1v1h-1zM1367 746h1v1h-1zM355 714h3v1h-3zM512 714h1v1h-1zM528 714h8v1h-8zM540 714h2v1h-2zM558 714h1v1h-1zM854 713h1v3h-1zM918 712h1v3h-1zM981 714h1v1h-1zM1019 714h2v1h-2zM1045 714h1v1h-1zM391 696h1v2h-1zM401 696h2v1h-2zM413 696h3v1h-3zM432 696h1v1h-1zM869 696h1v2h-1zM879 696h1v4h-1zM114 735h1v1h-1zM116 735h2v1h-2zM132 735h2v1h-2zM154 735h1v1h-1zM170 735h2v1h-2zM222 735h2v1h-2zM229 734h1v2h-1zM276 735h2v1h-2zM601 734h1v2h-1zM704 735h1v1h-1zM725 734h1v2h-1zM792 735h8v1h-8zM804 735h1v1h-1zM827 735h1v1h-1zM1089 735h2v1h-2zM1123 735h10v1h-10zM1226 735h1v1h-1zM1228 735h1v1h-1zM1257 734h1v2h-1zM25 738h1v1h-1zM40 738h4v1h-4zM67 738h2v1h-2zM83 738h3v1h-3zM110 738h1v1h-1zM121 738h2v1h-2zM125 738h3v1h-3zM176 738h1v1h-1zM201 738h2v1h-2zM232 738h1v1h-1zM250 738h1v1h-1zM252 738h1v2h-1zM269 738h3v1h-3zM603 738h1v1h-1zM683 738h10v1h-10zM701 738h1v2h-1zM728 738h1v1h-1zM744 738h5v1h-5zM761 738h2v1h-2zM766 738h4v1h-4zM784 738h1v1h-1zM808 738h1v1h-1zM824 738h1v1h-1zM1094 738h1v1h-1zM1119 738h1v1h-1zM1259 738h1v2h-1zM1288 738h2v1h-2zM1293 738h1v1h-1zM139 731h5v1h-5zM148 731h2v1h-2zM283 731h2v1h-2zM330 731h2v1h-2zM707 731h2v1h-2zM832 731h1v1h-1zM842 731h2v1h-2zM1066 731h1v1h-1zM1069 731h3v1h-3zM1082 731h2v1h-2zM1141 731h2v1h-2zM1160 731h4v1h-4zM1221 731h1v1h-1zM1232 731h1v1h-1zM1255 730h1v2h-1zM353 717h1v2h-1zM515 717h3v1h-3zM560 717h1v1h-1zM586 717h3v1h-3zM853 716h1v2h-1zM919 715h1v3h-1zM977 717h2v1h-2zM1047 716h1v2h-1zM393 694h1v1h-1zM398 694h2v1h-2zM418 694h6v1h-6zM428 694h2v1h-2zM870 694h1v2h-1zM878 693h1v3h-1zM368 710h2v1h-2zM467 710h2v1h-2zM482 710h4v1h-4zM508 710h1v1h-1zM547 710h9v1h-9zM856 708h1v3h-1zM883 710h2v1h-2zM986 710h1v1h-1zM1015 709h1v2h-1zM1029 710h2v1h-2zM1040 710h1v1h-1zM15 745h2v1h-2zM51 745h5v1h-5zM60 745h1v1h-1zM263 745h1v1h-1zM633 745h2v1h-2zM659 745h5v1h-5zM679 744h1v2h-1zM1105 745h2v1h-2zM1108 745h2v1h-2zM1266 745h1v1h-1zM1278 745h2v1h-2zM1312 745h6v1h-6zM1328 745h2v1h-2zM1333 745h2v1h-2zM1342 745h2v1h-2zM1353 745h2v1h-2zM1366 745h1v1h-1zM144 730h4v1h-4zM285 730h3v1h-3zM328 730h2v1h-2zM332 730h2v1h-2zM347 730h1v1h-1zM599 729h1v2h-1zM833 730h1v1h-1zM840 730h2v1h-2zM844 730h1v1h-1zM1065 730h1v1h-1zM1072 730h2v1h-2zM1078 730h4v1h-4zM1143 730h2v1h-2zM1154 730h6v1h-6zM1164 730h2v1h-2zM1220 730h1v1h-1zM1233 730h1v1h-1zM24 739h1v1h-1zM44 739h1v1h-1zM66 739h1v1h-1zM69 739h2v1h-2zM81 739h2v1h-2zM86 739h4v1h-4zM108 739h2v1h-2zM123 739h2v1h-2zM177 739h2v1h-2zM184 739h6v1h-6zM199 739h2v1h-2zM248 739h2v1h-2zM267 739h2v1h-2zM603 739h5v1h-5zM643 739h5v1h-5zM693 739h3v1h-3zM738 739h6v1h-6zM749 739h3v1h-3zM759 739h2v1h-2zM770 739h4v1h-4zM782 739h2v1h-2zM809 739h1v1h-1zM822 739h2v1h-2zM1095 739h1v1h-1zM1118 739h1v1h-1zM1287 739h1v1h-1zM1294 739h2v1h-2zM17 744h2v1h-2zM50 744h1v1h-1zM61 744h1v1h-1zM94 744h1v1h-1zM104 744h1v1h-1zM255 744h1v1h-1zM264 743h1v2h-1zM614 744h1v1h-1zM635 744h1v1h-1zM657 744h2v1h-2zM1103 744h2v1h-2zM1110 744h2v1h-2zM1265 744h1v1h-1zM1280 744h1v1h-1zM1304 744h8v1h-8zM1318 744h4v1h-4zM1325 744h3v1h-3zM1335 744h2v1h-2zM1341 744h1v1h-1zM1355 744h5v1h-5zM1364 744h2v1h-2zM26 737h1v1h-1zM32 737h8v1h-8zM111 737h1v1h-1zM120 737h1v1h-1zM128 737h2v1h-2zM160 737h6v1h-6zM174 737h2v1h-2zM203 737h17v1h-17zM231 737h1v1h-1zM251 737h1v1h-1zM272 737h2v1h-2zM602 736h1v2h-1zM702 737h1v1h-1zM727 737h1v1h-1zM763 737h3v1h-3zM785 737h2v1h-2zM806 737h2v1h-2zM825 737h1v1h-1zM1092 737h2v1h-2zM1120 737h2v1h-2zM1258 736h1v2h-1zM1290 737h1v1h-1zM1292 737h1v1h-1zM27 736h5v1h-5zM112 736h2v1h-2zM118 736h2v1h-2zM130 736h2v1h-2zM155 736h5v1h-5zM166 736h4v1h-4zM172 736h2v1h-2zM220 736h2v1h-2zM230 736h1v1h-1zM274 736h2v1h-2zM703 736h1v1h-1zM726 736h1v1h-1zM787 736h5v1h-5zM805 736h1v1h-1zM826 736h1v1h-1zM1091 736h1v1h-1zM1122 736h1v1h-1zM1227 736h1v1h-1zM1291 736h1v1h-1zM354 715h1v2h-1zM514 716h1v1h-1zM518 716h4v1h-4zM559 715h1v2h-1zM979 716h1v1h-1zM299 724h2v1h-2zM350 723h1v2h-1zM597 724h1v2h-1zM849 723h1v2h-1zM922 723h1v3h-1zM928 724h1v1h-1zM1060 724h1v1h-1zM1182 724h2v1h-2zM1213 724h1v1h-1zM1240 724h1v1h-1zM1252 724h1v2h-1zM596 722h1v2h-1zM929 723h2v1h-2zM1058 723h2v1h-2zM1184 723h1v1h-1zM1212 723h1v1h-1zM1241 723h1v1h-1zM1251 723h1v1h-1zM622 750h4v1h-4zM673 750h2v1h-2zM1384 750h4v1h-4zM295 726h2v1h-2zM303 726h2v1h-2zM338 726h1v1h-1zM340 726h2v1h-2zM349 725h1v2h-1zM847 726h1v1h-1zM923 726h3v1h-3zM1062 726h1v1h-1zM1171 726h9v1h-9zM1216 726h1v1h-1zM1237 726h1v1h-1zM389 699h1v1h-1zM437 699h3v1h-3zM868 698h1v2h-1zM19 743h1v1h-1zM49 743h1v1h-1zM62 743h1v1h-1zM93 743h1v1h-1zM105 743h1v1h-1zM240 743h4v1h-4zM613 743h1v1h-1zM636 743h2v1h-2zM656 743h1v1h-1zM680 743h1v1h-1zM1101 743h2v1h-2zM1112 743h1v1h-1zM1264 743h1v1h-1zM1281 743h2v1h-2zM1299 743h5v1h-5zM1322 743h3v1h-3zM1337 743h2v1h-2zM1340 743h1v1h-1zM1360 743h4v1h-4zM561 718h1v1h-1zM582 718h4v1h-4zM589 718h3v1h-3zM852 718h1v2h-1zM955 718h11v1h-11zM975 718h2v1h-2zM1048 718h1v1h-1zM288 729h2v1h-2zM325 729h3v1h-3zM334 729h1v1h-1zM345 729h3v1h-3zM834 729h1v1h-1zM837 729h3v1h-3zM1064 729h1v1h-1zM1074 729h4v1h-4zM1145 729h2v1h-2zM1150 729h4v1h-4zM1166 729h2v1h-2zM1219 729h1v1h-1zM1234 729h1v1h-1zM297 725h2v1h-2zM301 725h2v1h-2zM339 725h1v1h-1zM848 725h1v1h-1zM926 725h2v1h-2zM1061 725h1v1h-1zM1180 725h2v1h-2zM1214 725h2v1h-2zM1238 725h2v1h-2zM1392 753h1v1h-1zM1402 753h2v1h-2zM576 719h6v1h-6zM592 719h2v1h-2zM953 719h2v1h-2zM966 719h4v1h-4zM973 719h2v1h-2zM1049 719h1v1h-1zM99 751h1v1h-1zM259 751h1v1h-1zM619 751h3v1h-3zM675 751h1v1h-1zM1388 751h2v1h-2zM850 722h1v1h-1zM931 722h18v1h-18zM1054 722h4v1h-4zM1185 722h2v1h-2zM1192 722h8v1h-8zM1208 722h4v1h-4zM1242 722h1v1h-1zM1248 722h4v1h-4zM115 734h1v1h-1zM134 734h2v1h-2zM152 734h2v1h-2zM224 734h1v1h-1zM278 734h2v1h-2zM705 733h1v2h-1zM714 734h4v1h-4zM800 734h4v1h-4zM828 734h1v1h-1zM1088 734h1v1h-1zM1133 734h3v1h-3zM1225 734h1v1h-1zM1229 734h1v1h-1zM8 747h5v1h-5zM96 747h1v1h-1zM102 747h1v1h-1zM257 747h1v2h-1zM616 747h1v1h-1zM630 747h2v1h-2zM668 747h2v1h-2zM677 747h1v2h-1zM1272 747h4v1h-4zM1345 747h1v1h-1zM1350 747h2v1h-2zM1368 747h2v1h-2zM384 701h4v1h-4zM442 701h6v1h-6zM453 701h2v1h-2zM864 701h4v1h-4zM874 686h2v1h-2zM379 702h5v1h-5zM455 702h2v1h-2zM859 702h5v1h-5zM403 697h10v1h-10zM433 697h2v1h-2zM358 713h4v1h-4zM474 713h3v1h-3zM511 713h1v1h-1zM542 713h2v1h-2zM557 713h1v1h-1zM982 713h2v1h-2zM1018 713h1v1h-1zM1021 713h3v1h-3zM1044 713h1v1h-1zM136 733h1v1h-1zM151 733h1v1h-1zM225 733h2v1h-2zM228 733h1v1h-1zM280 733h1v1h-1zM712 733h2v1h-2zM718 733h4v1h-4zM724 733h1v1h-1zM829 733h1v1h-1zM1086 733h2v1h-2zM1136 733h2v1h-2zM1224 733h1v1h-1zM1230 733h1v1h-1zM97 748h1v1h-1zM101 748h1v1h-1zM261 748h1v1h-1zM617 748h1v1h-1zM628 748h2v1h-2zM670 748h2v1h-2zM1346 748h1v1h-1zM1348 748h2v1h-2zM1370 748h1v1h-1zM392 695h1v1h-1zM400 695h1v1h-1zM416 695h2v1h-2zM430 695h2v1h-2zM362 712h3v1h-3zM472 712h2v1h-2zM477 712h3v1h-3zM510 712h1v1h-1zM544 712h1v1h-1zM984 712h1v1h-1zM1017 712h1v1h-1zM1024 712h2v1h-2zM1043 712h1v1h-1zM372 708h1v1h-1zM464 708h2v1h-2zM490 708h6v1h-6zM502 708h4v1h-4zM887 708h2v1h-2zM989 708h2v1h-2zM1014 708h1v1h-1zM1033 708h2v1h-2zM1036 708h2v1h-2zM370 709h2v1h-2zM466 709h1v1h-1zM486 709h4v1h-4zM506 709h2v1h-2zM883 709h1v1h-1zM885 709h2v1h-2zM987 709h2v1h-2zM1031 709h2v1h-2zM1038 709h2v1h-2zM376 705h1v1h-1zM460 705h2v1h-2zM858 704h1v2h-1zM912 705h4v1h-4zM995 705h5v1h-5zM1008 705h4v1h-4zM394 693h1v1h-1zM396 693h2v1h-2zM424 693h4v1h-4zM871 692h1v2h-1zM875 685h1v1h-1zM513 715h1v1h-1zM522 715h6v1h-6zM536 715h4v1h-4zM980 715h1v1h-1zM1046 715h1v1h-1zM874 687h1v1h-1zM377 704h1v1h-1zM459 704h1v1h-1zM390 698h1v1h-1zM435 698h2v1h-2zM1393 754h2v1h-2zM1398 754h4v1h-4zM872 690h1v2h-1zM877 690h1v3h-1zM1395 755h3v1h-3zM395 692h1v1h-1zM1390 752h2v1h-2z" fill="#1e90ff" shape-rendering="crispEdges"/>
<g shape-rendering="crispEdges"><rect x="2" y="20" width="1" height="542" fill="#000"/><rect x="1418" y="20" width="1" height="542" fill="#000"/><rect x="2" y="20" width="1417" height="1" fill="#000"/><rect x="2" y="561" width="1417" height="1" fill="#000"/><rect x="2" y="563" width="1" height="105" fill="#000"/><rect x="1418" y="563" width="1" height="105" fill="#000"/><rect x="2" y="563" width="1417" height="1" fill="#000"/><rect x="2" y="667" width="1417" height="1" fill="#000"/><rect x="2" y="669" width="1" height="131" fill="#000"/><rect x="1418" y="669" width="1" height="131" fill="#000"/><rect x="2" y="669" width="1417" height="1" fill="#000"/><rect x="2" y="799" width="1417" height="1" fill="#000"/><rect x="0" y="562" width="1460" height="1" fill="#fff"/><rect x="0" y="668" width="1460" height="1" fill="#fff"/></g>
<rect x="1419" y="30" width="2" height="1" fill="#000" shape-rendering="crispEdges"/><text transform="translate(1424,33.6) scale(0.885,1)" font-size="10.2" fill="#000" color="#000" text-anchor="start" >7.21190</text><rect x="1419" y="63" width="2" height="1" fill="#000" shape-rendering="crispEdges"/><text transform="translate(1424,66.6) scale(0.885,1)" font-size="10.2" fill="#000" color="#000" text-anchor="start" >7.17790</text><rect x="1419" y="96" width="2" height="1" fill="#000" shape-rendering="crispEdges"/><text transform="translate(1424,99.6) scale(0.885,1)" font-size="10.2" fill="#000" color="#000" text-anchor="start" >7.14290</text><rect x="1419" y="129" width="2" height="1" fill="#000" shape-rendering="crispEdges"/><text transform="translate(1424,132.6) scale(0.885,1)" font-size="10.2" fill="#000" color="#000" text-anchor="start" >7.10790</text><rect x="1419" y="162" width="2" height="1" fill="#000" shape-rendering="crispEdges"/><text transform="translate(1424,165.6) scale(0.885,1)" font-size="10.2" fill="#000" color="#000" text-anchor="start" >7.07390</text><rect x="1419" y="195" width="2" height="1" fill="#000" shape-rendering="crispEdges"/><text transform="translate(1424,198.6) scale(0.885,1)" font-size="10.2" fill="#000" color="#000" text-anchor="start" >7.03890</text><rect x="1419" y="228" width="2" height="1" fill="#000" shape-rendering="crispEdges"/><text transform="translate(1424,231.6) scale(0.885,1)" font-size="10.2" fill="#000" color="#000" text-anchor="start" >7.00490</text><rect x="1419" y="261" width="2" height="1" fill="#000" shape-rendering="crispEdges"/><text transform="translate(1424,264.6) scale(0.885,1)" font-size="10.2" fill="#000" color="#000" text-anchor="start" >6.96990</text><rect x="1419" y="294" width="2" height="1" fill="#000" shape-rendering="crispEdges"/><text transform="translate(1424,297.6) scale(0.885,1)" font-size="10.2" fill="#000" color="#000" text-anchor="start" >6.93490</text><rect x="1419" y="327" width="2" height="1" fill="#000" shape-rendering="crispEdges"/><text transform="translate(1424,330.6) scale(0.885,1)" font-size="10.2" fill="#000" color="#000" text-anchor="start" >6.90090</text><rect x="1419" y="360" width="2" height="1" fill="#000" shape-rendering="crispEdges"/><text transform="translate(1424,363.6) scale(0.885,1)" font-size="10.2" fill="#000" color="#000" text-anchor="start" >6.86590</text><rect x="1419" y="393" width="2" height="1" fill="#000" shape-rendering="crispEdges"/><text transform="translate(1424,396.6) scale(0.885,1)" font-size="10.2" fill="#000" color="#000" text-anchor="start" >6.83190</text><rect x="1419" y="426" width="2" height="1" fill="#000" shape-rendering="crispEdges"/><text transform="translate(1424,429.6) scale(0.885,1)" font-size="10.2" fill="#000" color="#000" text-anchor="start" >6.79690</text><rect x="1419" y="459" width="2" height="1" fill="#000" shape-rendering="crispEdges"/><text transform="translate(1424,462.6) scale(0.885,1)" font-size="10.2" fill="#000" color="#000" text-anchor="start" >6.76190</text><rect x="1419" y="492" width="2" height="1" fill="#000" shape-rendering="crispEdges"/><text transform="translate(1424,495.6) scale(0.885,1)" font-size="10.2" fill="#000" color="#000" text-anchor="start" >6.72790</text><rect x="1419" y="525" width="2" height="1" fill="#000" shape-rendering="crispEdges"/><text transform="translate(1424,528.6) scale(0.885,1)" font-size="10.2" fill="#000" color="#000" text-anchor="start" >6.69290</text><rect x="1419" y="558" width="2" height="1" fill="#000" shape-rendering="crispEdges"/><text transform="translate(1424,561.6) scale(0.885,1)" font-size="10.2" fill="#000" color="#000" text-anchor="start" >6.65890</text>
<rect x="1420" y="35" width="40" height="11" fill="#ff0000" shape-rendering="crispEdges"/>
<text transform="translate(1424,43.8) scale(0.885,1)" font-size="10.2" fill="#fff" color="#fff" text-anchor="start" >7.20017</text>
<rect x="1420" y="130" width="40" height="11" fill="#ff0000" shape-rendering="crispEdges"/>
<text transform="translate(1424,138.8) scale(0.885,1)" font-size="10.2" fill="#fff" color="#fff" text-anchor="start" >7.10073</text>
<rect x="1420" y="226" width="40" height="11" fill="#00ff00" shape-rendering="crispEdges"/>
<text transform="translate(1424,234.8) scale(0.885,1)" font-size="10.2" fill="#fff" color="#fff" text-anchor="start" >7.00025</text>
<rect x="1420" y="321" width="40" height="11" fill="#0000ff" shape-rendering="crispEdges"/>
<text transform="translate(1424,329.8) scale(0.885,1)" font-size="10.2" fill="#fff" color="#fff" text-anchor="start" >6.90100</text>
<rect x="1420" y="397" width="40" height="11" fill="#0000ff" shape-rendering="crispEdges"/>
<text transform="translate(1424,405.8) scale(0.885,1)" font-size="10.2" fill="#fff" color="#fff" text-anchor="start" >6.82103</text>
<rect x="1420" y="201" width="40" height="11" fill="#000" shape-rendering="crispEdges"/>
<text transform="translate(1424,209.8) scale(0.885,1)" font-size="10.2" fill="#fff" color="#fff" text-anchor="start" >7.02790</text>
<rect x="1412" y="38" width="7" height="7" fill="#ff0000" shape-rendering="crispEdges"/><rect x="1415" y="41" width="1" height="1" fill="#fff"/>
<rect x="1412" y="133" width="7" height="7" fill="#ff0000" shape-rendering="crispEdges"/><rect x="1415" y="136" width="1" height="1" fill="#fff"/>
<rect x="1412" y="229" width="7" height="7" fill="#00ff00" shape-rendering="crispEdges"/><rect x="1415" y="232" width="1" height="1" fill="#fff"/>
<rect x="1412" y="324" width="7" height="7" fill="#0000ff" shape-rendering="crispEdges"/><rect x="1415" y="327" width="1" height="1" fill="#fff"/>
<rect x="2" y="133" width="7" height="7" fill="#ff0000" shape-rendering="crispEdges"/><rect x="5" y="136" width="1" height="1" fill="#fff"/>
<rect x="2" y="229" width="7" height="7" fill="#00ff00" shape-rendering="crispEdges"/><rect x="5" y="232" width="1" height="1" fill="#fff"/>
<rect x="2" y="324" width="7" height="7" fill="#0000ff" shape-rendering="crispEdges"/><rect x="5" y="327" width="1" height="1" fill="#fff"/>
<rect x="225" y="38" width="2" height="8" fill="#fff"/><rect x="3" y="38" width="4" height="8" fill="#fff"/><rect x="2" y="38" width="2" height="7" fill="#ff0000"/>
<text transform="translate(1422,574) scale(0.885,1)" font-size="10.2" fill="#000" color="#000" text-anchor="start" >0.060161</text>
<text transform="translate(1422,637) scale(0.885,1)" font-size="10.2" fill="#000" color="#000" text-anchor="start" >0.00</text>
<text transform="translate(1422,664) scale(0.885,1)" font-size="10.2" fill="#000" color="#000" text-anchor="start" >-0.029378</text>
<rect x="1419" y="566" width="2" height="1" fill="#000"/><rect x="1419" y="633" width="2" height="1" fill="#000"/><rect x="1419" y="661" width="2" height="1" fill="#000"/>
<text x="7.2" y="576" font-size="10.2" fill="#000" color="#000" textLength="153.8" lengthAdjust="spacingAndGlyphs" >MACD(12,26,9) -0.018646 -0.014223</text>
<text transform="translate(1422,680) scale(0.885,1)" font-size="10.2" fill="#000" color="#000" text-anchor="start" >100</text>
<text transform="translate(1422,713) scale(0.885,1)" font-size="10.2" fill="#000" color="#000" text-anchor="start" >70</text>
<text transform="translate(1422,764) scale(0.885,1)" font-size="10.2" fill="#000" color="#000" text-anchor="start" >30</text>
<text transform="translate(1422,795.7) scale(0.885,1)" font-size="10.2" fill="#000" color="#000" text-anchor="start" >0</text>
<text x="7.2" y="682" font-size="10.2" fill="#000" color="#000" textLength="67.7" lengthAdjust="spacingAndGlyphs" >RSI(14) 36.0130</text>
<rect x="3" y="800" width="1" height="3" fill="#000" shape-rendering="crispEdges"/>
<text transform="translate(2,812) scale(0.922,1)" font-size="10.2" fill="#000" color="#000" text-anchor="start" >4 Mar 2019</text>
<rect x="67" y="800" width="1" height="3" fill="#000" shape-rendering="crispEdges"/>
<text transform="translate(66,812) scale(0.922,1)" font-size="10.2" fill="#000" color="#000" text-anchor="start" >14 Mar 2019</text>
<rect x="131" y="800" width="1" height="3" fill="#000" shape-rendering="crispEdges"/>
<text transform="translate(130,812) scale(0.922,1)" font-size="10.2" fill="#000" color="#000" text-anchor="start" >26 Mar 2019</text>
<rect x="195" y="800" width="1" height="3" fill="#000" shape-rendering="crispEdges"/>
<text transform="translate(194,812) scale(0.922,1)" font-size="10.2" fill="#000" color="#000" text-anchor="start" >5 Apr 2019</text>
<rect x="259" y="800" width="1" height="3" fill="#000" shape-rendering="crispEdges"/>
<text transform="translate(258,812) scale(0.922,1)" font-size="10.2" fill="#000" color="#000" text-anchor="start" >17 Apr 2019</text>
<rect x="323" y="800" width="1" height="3" fill="#000" shape-rendering="crispEdges"/>
<text transform="translate(322,812) scale(0.922,1)" font-size="10.2" fill="#000" color="#000" text-anchor="start" >30 Apr 2019</text>
<rect x="387" y="800" width="1" height="3" fill="#000" shape-rendering="crispEdges"/>
<text transform="translate(386,812) scale(0.922,1)" font-size="10.2" fill="#000" color="#000" text-anchor="start" >10 May 2019</text>
<rect x="451" y="800" width="1" height="3" fill="#000" shape-rendering="crispEdges"/>
<text transform="translate(450,812) scale(0.922,1)" font-size="10.2" fill="#000" color="#000" text-anchor="start" >22 May 2019</text>
<rect x="515" y="800" width="1" height="3" fill="#000" shape-rendering="crispEdges"/>
<text transform="translate(514,812) scale(0.922,1)" font-size="10.2" fill="#000" color="#000" text-anchor="start" >3 Jun 2019</text>
<rect x="579" y="800" width="1" height="3" fill="#000" shape-rendering="crispEdges"/>
<text transform="translate(578,812) scale(0.922,1)" font-size="10.2" fill="#000" color="#000" text-anchor="start" >13 Jun 2019</text>
<rect x="643" y="800" width="1" height="3" fill="#000" shape-rendering="crispEdges"/>
<text transform="translate(642,812) scale(0.922,1)" font-size="10.2" fill="#000" color="#000" text-anchor="start" >25 Jun 2019</text>
<rect x="707" y="800" width="1" height="3" fill="#000" shape-rendering="crispEdges"/>
<text transform="translate(706,812) scale(0.922,1)" font-size="10.2" fill="#000" color="#000" text-anchor="start" >5 Jul 2019</text>
<rect x="771" y="800" width="1" height="3" fill="#000" shape-rendering="crispEdges"/>
<text transform="translate(770,812) scale(0.922,1)" font-size="10.2" fill="#000" color="#000" text-anchor="start" >17 Jul 2019</text>
<rect x="835" y="800" width="1" height="3" fill="#000" shape-rendering="crispEdges"/>
<text transform="translate(834,812) scale(0.922,1)" font-size="10.2" fill="#000" color="#000" text-anchor="start" >29 Jul 2019</text>
<rect x="899" y="800" width="1" height="3" fill="#000" shape-rendering="crispEdges"/>
<text transform="translate(898,812) scale(0.922,1)" font-size="10.2" fill="#000" color="#000" text-anchor="start" >8 Aug 2019</text>
<rect x="963" y="800" width="1" height="3" fill="#000" shape-rendering="crispEdges"/>
<text transform="translate(962,812) scale(0.922,1)" font-size="10.2" fill="#000" color="#000" text-anchor="start" >20 Aug 2019</text>
<rect x="1027" y="800" width="1" height="3" fill="#000" shape-rendering="crispEdges"/>
<text transform="translate(1026,812) scale(0.922,1)" font-size="10.2" fill="#000" color="#000" text-anchor="start" >30 Aug 2019</text>
<rect x="1091" y="800" width="1" height="3" fill="#000" shape-rendering="crispEdges"/>
<text transform="translate(1090,812) scale(0.922,1)" font-size="10.2" fill="#000" color="#000" text-anchor="start" >11 Sep 2019</text>
<rect x="1155" y="800" width="1" height="3" fill="#000" shape-rendering="crispEdges"/>
<text transform="translate(1154,812) scale(0.922,1)" font-size="10.2" fill="#000" color="#000" text-anchor="start" >23 Sep 2019</text>
<rect x="1219" y="800" width="1" height="3" fill="#000" shape-rendering="crispEdges"/>
<text transform="translate(1218,812) scale(0.922,1)" font-size="10.2" fill="#000" color="#000" text-anchor="start" >3 Oct 2019</text>
<rect x="1283" y="800" width="1" height="3" fill="#000" shape-rendering="crispEdges"/>
<text transform="translate(1282,812) scale(0.922,1)" font-size="10.2" fill="#000" color="#000" text-anchor="start" >15 Oct 2019</text>
<rect x="1347" y="800" width="1" height="3" fill="#000" shape-rendering="crispEdges"/>
<text transform="translate(1346,812) scale(0.922,1)" font-size="10.2" fill="#000" color="#000" text-anchor="start" >25 Oct 2019</text>
<path d="M3 794 L8 799 L3 799 Z" fill="#c0c0c0"/>
<path d="M5.5 31.5 L13 31.5 L9.25 27.3 Z" fill="#000"/>
<text x="17.8" y="32" font-size="10.2" fill="#000" color="#000" textLength="215.7" lengthAdjust="spacingAndGlyphs" >USDCNH-,Daily&#160; 7.02430 7.02885 7.02201 7.02790</text>
</svg>
<div id="tp">
 <div class="g"></div>
 <div style="position:absolute;left:109px;top:24px;width:2px;height:40px;background:#fff"></div>
 <div style="position:absolute;left:4px;top:24px;width:44px;height:1px;background:#a4a4f4"></div>
 <div style="position:absolute;left:171px;top:24px;width:44px;height:1px;background:#a4a4f4"></div>
 <div class="btn" style="left:0;top:4px;width:51px">SELL</div>
 <div class="btn" style="left:167px;top:4px;width:51px;transform:scaleX(1.0)">BUY</div>
 <div style="position:absolute;left:54px;top:0;width:110px;height:22px;background:#fff;border:1px solid #b4b4b4;box-sizing:border-box;"></div>
 <div style="position:absolute;left:55px;top:1px;width:21px;height:20px;background:linear-gradient(#f0f0f0 0,#e6e6e6 45%,#d4d4d4 50%,#d8d8d8 100%);border-right:1px solid #b0b0b0;box-sizing:border-box"></div>
 <div style="position:absolute;left:143px;top:1px;width:20px;height:20px;background:linear-gradient(#f0f0f0 0,#e6e6e6 45%,#d4d4d4 50%,#d8d8d8 100%);border-left:1px solid #b0b0b0;box-sizing:border-box"></div>
 <div style="position:absolute;left:61.4px;top:9px;width:0;height:0;border-left:3px solid transparent;border-right:3px solid transparent;border-top:3.6px solid #5060c0"></div>
 <div style="position:absolute;left:150.4px;top:9px;width:0;height:0;border-left:3px solid transparent;border-right:3px solid transparent;border-bottom:3.6px solid #5060c0"></div>
 <div style="position:absolute;left:76px;top:2px;width:63.7px;height:18px;font-size:12px;line-height:18px;text-align:right;color:#000">1.00</div>
 <div class="sm" style="left:20px;top:45px">7.02</div>
 <div class="big" style="left:46px;top:25.9px">79</div>
 <div class="sup" style="left:87.3px;top:28.3px">0</div>
 <div class="sm" style="left:130px;top:45px">7.03</div>
 <div class="big" style="left:156.3px;top:25.9px">07</div>
 <div class="sup" style="left:198px;top:28.3px">0</div>
</div>
<div id="tabs"><div class="l1"></div><div class="l0"></div><div class="l2"></div><div id="acttab"></div><span class="tab" style="left:15px">EURUSD-,Daily</span><span class="tab" style="left:121px">AUDUSD-,Daily</span><span class="tab" style="left:232px">USDCHF-,Daily</span><span class="tab" style="left:339px">USDCAD-,Daily</span><span class="tab act" style="left:448px">USDCNH-,Daily</span><span class="tab" style="left:559px">EURCHF-,Weekly</span><span class="tab" style="left:678px">XAUUSD-,H1</span><span class="tab" style="left:775px">GBPUSD-,H1</span><span class="tab" style="left:871px">UKOil-,H1</span><span class="tab" style="left:950px">USDX-,Weekly</span><span class="tab" style="left:1054px">EURCHF-,H1</span><span class="tab" style="left:1148px">USOil-,H1</span><i class="sep" style="left:112px"></i><i class="sep" style="left:220px"></i><i class="sep" style="left:328px"></i><i class="sep" style="left:668px"></i><i class="sep" style="left:764px"></i><i class="sep" style="left:861px"></i><i class="sep" style="left:941px"></i><i class="sep" style="left:1044px"></i><i class="sep" style="left:1136px"></i><i class="sep" style="left:1216px"></i>
<div style="position:absolute;left:1433.5px;top:8px;width:0;height:0;border-top:3px solid transparent;border-bottom:3px solid transparent;border-right:3.5px solid #a0a0a0"></div>
<div style="position:absolute;left:1453px;top:8px;width:0;height:0;border-top:3px solid transparent;border-bottom:3px solid transparent;border-left:3.5px solid #a0a0a0"></div>
</div>
</body></html>
